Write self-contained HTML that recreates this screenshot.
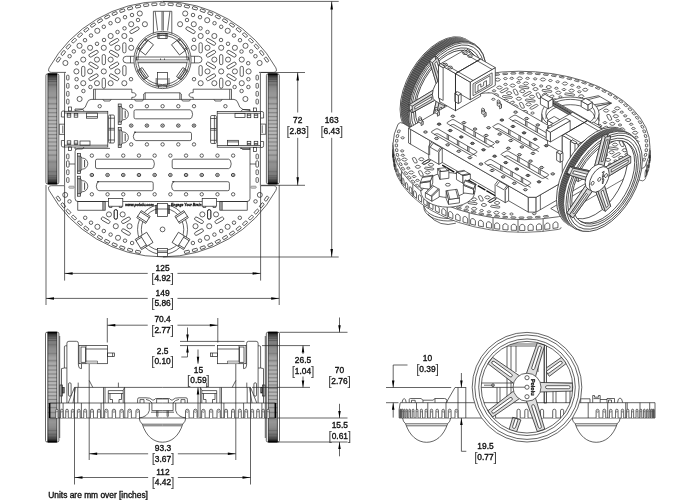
<!DOCTYPE html>
<html><head><meta charset="utf-8"><title>Romi chassis dimensions</title>
<style>
html,body{margin:0;padding:0;background:#fff;}
svg{display:block;font-family:"Liberation Sans",sans-serif;}
svg{will-change:transform;}
.l{fill:none;stroke:#222;stroke-width:.7;}
.ns *{vector-effect:non-scaling-stroke;}
</style></head><body>
<svg width="700" height="500" viewBox="0 0 700 500">
<rect width="700" height="500" fill="#fff"/>
<g class="l">
<path d="M49.17 67.80 A129.2 127.75 0 0 1 275.83 67.80 Q277.83 72.40 273.33 72.40 L259.4 72.4 Q260.4 72.4 260.4 73.4 L260.4 185.7 L273.38 185.7 Q277.88 185.70 275.88 190.40 A129.2 127.75 0 0 1 49.12 190.40 Q47.12 185.70 51.62 185.70 L64.6 185.7 L64.6 73.4 Q64.6 72.4 65.6 72.4 L51.67 72.4 Q47.17 72.40 49.17 67.80 Z"/>
<rect x="55.98" y="58.40" width="5.00" height="2.50" rx="0.60" transform="rotate(-56.25 58.48 59.65)"/>
<rect x="55.98" y="197.40" width="5.00" height="2.50" rx="0.60" transform="rotate(56.25 58.48 198.65)"/>
<rect x="60.75" y="51.74" width="5.00" height="2.50" rx="0.60" transform="rotate(-52.50 63.25 52.99)"/>
<rect x="60.75" y="204.06" width="5.00" height="2.50" rx="0.60" transform="rotate(52.50 63.25 205.31)"/>
<rect x="65.94" y="45.42" width="5.00" height="2.50" rx="0.60" transform="rotate(-48.75 68.44 46.67)"/>
<rect x="65.94" y="210.38" width="5.00" height="2.50" rx="0.60" transform="rotate(48.75 68.44 211.63)"/>
<rect x="71.54" y="39.44" width="5.00" height="2.50" rx="0.60" transform="rotate(-45.00 74.04 40.69)"/>
<rect x="71.54" y="216.36" width="5.00" height="2.50" rx="0.60" transform="rotate(45.00 74.04 217.61)"/>
<rect x="77.52" y="33.84" width="5.00" height="2.50" rx="0.60" transform="rotate(-41.25 80.02 35.09)"/>
<rect x="77.52" y="221.96" width="5.00" height="2.50" rx="0.60" transform="rotate(41.25 80.02 223.21)"/>
<rect x="83.84" y="28.65" width="5.00" height="2.50" rx="0.60" transform="rotate(-37.50 86.34 29.90)"/>
<rect x="83.84" y="227.15" width="5.00" height="2.50" rx="0.60" transform="rotate(37.50 86.34 228.40)"/>
<rect x="90.50" y="23.88" width="5.00" height="2.50" rx="0.60" transform="rotate(-33.75 93.00 25.13)"/>
<rect x="90.50" y="231.92" width="5.00" height="2.50" rx="0.60" transform="rotate(33.75 93.00 233.17)"/>
<rect x="97.45" y="19.56" width="5.00" height="2.50" rx="0.60" transform="rotate(-30.00 99.95 20.81)"/>
<rect x="97.45" y="236.24" width="5.00" height="2.50" rx="0.60" transform="rotate(30.00 99.95 237.49)"/>
<rect x="104.67" y="15.70" width="5.00" height="2.50" rx="0.60" transform="rotate(-26.25 107.17 16.95)"/>
<rect x="104.67" y="240.10" width="5.00" height="2.50" rx="0.60" transform="rotate(26.25 107.17 241.35)"/>
<rect x="112.13" y="12.32" width="5.00" height="2.50" rx="0.60" transform="rotate(-22.50 114.63 13.57)"/>
<rect x="112.13" y="243.48" width="5.00" height="2.50" rx="0.60" transform="rotate(22.50 114.63 244.73)"/>
<rect x="119.79" y="9.44" width="5.00" height="2.50" rx="0.60" transform="rotate(-18.75 122.29 10.69)"/>
<rect x="119.79" y="246.36" width="5.00" height="2.50" rx="0.60" transform="rotate(18.75 122.29 247.61)"/>
<rect x="127.62" y="7.06" width="5.00" height="2.50" rx="0.60" transform="rotate(-15.00 130.12 8.31)"/>
<rect x="127.62" y="248.74" width="5.00" height="2.50" rx="0.60" transform="rotate(15.00 130.12 249.99)"/>
<rect x="135.59" y="5.20" width="5.00" height="2.50" rx="0.60" transform="rotate(-11.25 138.09 6.45)"/>
<rect x="135.59" y="250.60" width="5.00" height="2.50" rx="0.60" transform="rotate(11.25 138.09 251.85)"/>
<rect x="143.67" y="3.87" width="5.00" height="2.50" rx="0.60" transform="rotate(-7.50 146.17 5.12)"/>
<rect x="151.82" y="3.07" width="5.00" height="2.50" rx="0.60" transform="rotate(-3.75 154.32 4.32)"/>
<rect x="160.00" y="2.80" width="5.00" height="2.50" rx="0.60"/>
<rect x="168.18" y="3.07" width="5.00" height="2.50" rx="0.60" transform="rotate(3.75 170.68 4.32)"/>
<rect x="176.33" y="3.87" width="5.00" height="2.50" rx="0.60" transform="rotate(7.50 178.83 5.12)"/>
<rect x="184.41" y="5.20" width="5.00" height="2.50" rx="0.60" transform="rotate(11.25 186.91 6.45)"/>
<rect x="184.41" y="250.60" width="5.00" height="2.50" rx="0.60" transform="rotate(-11.25 186.91 251.85)"/>
<rect x="192.38" y="7.06" width="5.00" height="2.50" rx="0.60" transform="rotate(15.00 194.88 8.31)"/>
<rect x="192.38" y="248.74" width="5.00" height="2.50" rx="0.60" transform="rotate(-15.00 194.88 249.99)"/>
<rect x="200.21" y="9.44" width="5.00" height="2.50" rx="0.60" transform="rotate(18.75 202.71 10.69)"/>
<rect x="200.21" y="246.36" width="5.00" height="2.50" rx="0.60" transform="rotate(-18.75 202.71 247.61)"/>
<rect x="207.87" y="12.32" width="5.00" height="2.50" rx="0.60" transform="rotate(22.50 210.37 13.57)"/>
<rect x="207.87" y="243.48" width="5.00" height="2.50" rx="0.60" transform="rotate(-22.50 210.37 244.73)"/>
<rect x="215.33" y="15.70" width="5.00" height="2.50" rx="0.60" transform="rotate(26.25 217.83 16.95)"/>
<rect x="215.33" y="240.10" width="5.00" height="2.50" rx="0.60" transform="rotate(-26.25 217.83 241.35)"/>
<rect x="222.55" y="19.56" width="5.00" height="2.50" rx="0.60" transform="rotate(30.00 225.05 20.81)"/>
<rect x="222.55" y="236.24" width="5.00" height="2.50" rx="0.60" transform="rotate(-30.00 225.05 237.49)"/>
<rect x="229.50" y="23.88" width="5.00" height="2.50" rx="0.60" transform="rotate(33.75 232.00 25.13)"/>
<rect x="229.50" y="231.92" width="5.00" height="2.50" rx="0.60" transform="rotate(-33.75 232.00 233.17)"/>
<rect x="236.16" y="28.65" width="5.00" height="2.50" rx="0.60" transform="rotate(37.50 238.66 29.90)"/>
<rect x="236.16" y="227.15" width="5.00" height="2.50" rx="0.60" transform="rotate(-37.50 238.66 228.40)"/>
<rect x="242.48" y="33.84" width="5.00" height="2.50" rx="0.60" transform="rotate(41.25 244.98 35.09)"/>
<rect x="242.48" y="221.96" width="5.00" height="2.50" rx="0.60" transform="rotate(-41.25 244.98 223.21)"/>
<rect x="248.46" y="39.44" width="5.00" height="2.50" rx="0.60" transform="rotate(45.00 250.96 40.69)"/>
<rect x="248.46" y="216.36" width="5.00" height="2.50" rx="0.60" transform="rotate(-45.00 250.96 217.61)"/>
<rect x="254.06" y="45.42" width="5.00" height="2.50" rx="0.60" transform="rotate(48.75 256.56 46.67)"/>
<rect x="254.06" y="210.38" width="5.00" height="2.50" rx="0.60" transform="rotate(-48.75 256.56 211.63)"/>
<rect x="259.25" y="51.74" width="5.00" height="2.50" rx="0.60" transform="rotate(52.50 261.75 52.99)"/>
<rect x="259.25" y="204.06" width="5.00" height="2.50" rx="0.60" transform="rotate(-52.50 261.75 205.31)"/>
<rect x="264.02" y="58.40" width="5.00" height="2.50" rx="0.60" transform="rotate(56.25 266.52 59.65)"/>
<rect x="264.02" y="197.40" width="5.00" height="2.50" rx="0.60" transform="rotate(-56.25 266.52 198.65)"/>
<circle cx="131.20" cy="24.20" r="2.55"/>
<circle cx="144.90" cy="24.20" r="2.55"/>
<circle cx="110.65" cy="36.00" r="2.55"/>
<circle cx="124.35" cy="36.00" r="2.55"/>
<circle cx="90.10" cy="47.80" r="2.55"/>
<circle cx="103.80" cy="47.80" r="2.55"/>
<circle cx="117.50" cy="47.80" r="2.55"/>
<circle cx="131.20" cy="47.80" r="2.55"/>
<circle cx="83.25" cy="59.60" r="2.55"/>
<circle cx="96.95" cy="59.60" r="2.55"/>
<circle cx="110.65" cy="59.60" r="2.55"/>
<circle cx="76.40" cy="71.40" r="2.55"/>
<circle cx="90.10" cy="71.40" r="2.55"/>
<circle cx="103.80" cy="71.40" r="2.55"/>
<circle cx="117.50" cy="71.40" r="2.55"/>
<circle cx="83.25" cy="83.20" r="2.55"/>
<circle cx="96.95" cy="83.20" r="2.55"/>
<circle cx="110.65" cy="83.20" r="2.55"/>
<circle cx="124.35" cy="83.20" r="2.55"/>
<circle cx="139.80" cy="13.50" r="2.55"/>
<circle cx="117.80" cy="20.20" r="2.55"/>
<circle cx="97.30" cy="30.80" r="2.55"/>
<circle cx="79.50" cy="45.80" r="2.55"/>
<circle cx="65.40" cy="63.00" r="2.55"/>
<circle cx="79.60" cy="99.00" r="2.55"/>
<circle cx="132.00" cy="15.00" r="1.75"/>
<circle cx="125.00" cy="17.20" r="1.75"/>
<circle cx="138.00" cy="20.00" r="1.75"/>
<circle cx="110.50" cy="23.20" r="1.75"/>
<circle cx="103.80" cy="26.80" r="1.75"/>
<circle cx="124.50" cy="28.30" r="1.75"/>
<circle cx="117.50" cy="32.00" r="1.75"/>
<circle cx="91.00" cy="35.50" r="1.75"/>
<circle cx="85.00" cy="40.20" r="1.75"/>
<circle cx="104.00" cy="40.00" r="1.75"/>
<circle cx="97.00" cy="43.80" r="1.75"/>
<circle cx="131.00" cy="39.80" r="1.75"/>
<circle cx="83.50" cy="51.50" r="1.75"/>
<circle cx="73.80" cy="51.40" r="1.75"/>
<circle cx="69.60" cy="56.20" r="1.75"/>
<circle cx="76.80" cy="63.20" r="1.75"/>
<circle cx="76.60" cy="79.20" r="1.75"/>
<circle cx="76.60" cy="87.00" r="1.75"/>
<circle cx="90.40" cy="87.00" r="1.75"/>
<circle cx="83.40" cy="91.00" r="1.75"/>
<circle cx="131.00" cy="79.20" r="1.75"/>
<rect x="108.98" y="40.25" width="10.20" height="3.30" rx="1.65" transform="rotate(149.86 114.08 41.90)"/>
<rect x="88.43" y="52.05" width="10.20" height="3.30" rx="1.65" transform="rotate(149.86 93.53 53.70)"/>
<rect x="119.25" y="46.15" width="10.20" height="3.30" rx="1.65" transform="rotate(90.00 124.35 47.80)"/>
<rect x="108.98" y="52.05" width="10.20" height="3.30" rx="1.65" transform="rotate(210.14 114.08 53.70)"/>
<rect x="98.70" y="57.95" width="10.20" height="3.30" rx="1.65" transform="rotate(90.00 103.80 59.60)"/>
<rect x="88.43" y="63.85" width="10.20" height="3.30" rx="1.65" transform="rotate(210.14 93.53 65.50)"/>
<rect x="108.98" y="63.85" width="10.20" height="3.30" rx="1.65" transform="rotate(149.86 114.08 65.50)"/>
<rect x="78.15" y="69.75" width="10.20" height="3.30" rx="1.65" transform="rotate(90.00 83.25 71.40)"/>
<rect x="88.43" y="75.65" width="10.20" height="3.30" rx="1.65" transform="rotate(149.86 93.53 77.30)"/>
<rect x="108.98" y="75.65" width="10.20" height="3.30" rx="1.65" transform="rotate(210.14 114.08 77.30)"/>
<rect x="98.70" y="81.55" width="10.20" height="3.30" rx="1.65" transform="rotate(90.00 103.80 83.20)"/>
<rect x="129.40" y="28.55" width="10.20" height="3.30" rx="1.65" transform="rotate(-30.00 134.50 30.20)"/>
<rect x="119.30" y="68.95" width="10.20" height="3.30" rx="1.65" transform="rotate(90.00 124.40 70.60)"/>
<circle cx="193.80" cy="24.20" r="2.55"/>
<circle cx="180.10" cy="24.20" r="2.55"/>
<circle cx="214.35" cy="36.00" r="2.55"/>
<circle cx="200.65" cy="36.00" r="2.55"/>
<circle cx="234.90" cy="47.80" r="2.55"/>
<circle cx="221.20" cy="47.80" r="2.55"/>
<circle cx="207.50" cy="47.80" r="2.55"/>
<circle cx="193.80" cy="47.80" r="2.55"/>
<circle cx="241.75" cy="59.60" r="2.55"/>
<circle cx="228.05" cy="59.60" r="2.55"/>
<circle cx="214.35" cy="59.60" r="2.55"/>
<circle cx="248.60" cy="71.40" r="2.55"/>
<circle cx="234.90" cy="71.40" r="2.55"/>
<circle cx="221.20" cy="71.40" r="2.55"/>
<circle cx="207.50" cy="71.40" r="2.55"/>
<circle cx="241.75" cy="83.20" r="2.55"/>
<circle cx="228.05" cy="83.20" r="2.55"/>
<circle cx="214.35" cy="83.20" r="2.55"/>
<circle cx="200.65" cy="83.20" r="2.55"/>
<circle cx="185.20" cy="13.50" r="2.55"/>
<circle cx="207.20" cy="20.20" r="2.55"/>
<circle cx="227.70" cy="30.80" r="2.55"/>
<circle cx="245.50" cy="45.80" r="2.55"/>
<circle cx="259.60" cy="63.00" r="2.55"/>
<circle cx="245.40" cy="99.00" r="2.55"/>
<circle cx="193.00" cy="15.00" r="1.75"/>
<circle cx="200.00" cy="17.20" r="1.75"/>
<circle cx="187.00" cy="20.00" r="1.75"/>
<circle cx="214.50" cy="23.20" r="1.75"/>
<circle cx="221.20" cy="26.80" r="1.75"/>
<circle cx="200.50" cy="28.30" r="1.75"/>
<circle cx="207.50" cy="32.00" r="1.75"/>
<circle cx="234.00" cy="35.50" r="1.75"/>
<circle cx="240.00" cy="40.20" r="1.75"/>
<circle cx="221.00" cy="40.00" r="1.75"/>
<circle cx="228.00" cy="43.80" r="1.75"/>
<circle cx="194.00" cy="39.80" r="1.75"/>
<circle cx="241.50" cy="51.50" r="1.75"/>
<circle cx="251.20" cy="51.40" r="1.75"/>
<circle cx="255.40" cy="56.20" r="1.75"/>
<circle cx="248.20" cy="63.20" r="1.75"/>
<circle cx="248.40" cy="79.20" r="1.75"/>
<circle cx="248.40" cy="87.00" r="1.75"/>
<circle cx="234.60" cy="87.00" r="1.75"/>
<circle cx="241.60" cy="91.00" r="1.75"/>
<circle cx="194.00" cy="79.20" r="1.75"/>
<rect x="205.83" y="40.25" width="10.20" height="3.30" rx="1.65" transform="rotate(30.14 210.93 41.90)"/>
<rect x="226.38" y="52.05" width="10.20" height="3.30" rx="1.65" transform="rotate(30.14 231.47 53.70)"/>
<rect x="195.55" y="46.15" width="10.20" height="3.30" rx="1.65" transform="rotate(90.00 200.65 47.80)"/>
<rect x="205.83" y="52.05" width="10.20" height="3.30" rx="1.65" transform="rotate(-30.14 210.93 53.70)"/>
<rect x="216.10" y="57.95" width="10.20" height="3.30" rx="1.65" transform="rotate(90.00 221.20 59.60)"/>
<rect x="226.38" y="63.85" width="10.20" height="3.30" rx="1.65" transform="rotate(-30.14 231.47 65.50)"/>
<rect x="205.83" y="63.85" width="10.20" height="3.30" rx="1.65" transform="rotate(30.14 210.93 65.50)"/>
<rect x="236.65" y="69.75" width="10.20" height="3.30" rx="1.65" transform="rotate(90.00 241.75 71.40)"/>
<rect x="226.38" y="75.65" width="10.20" height="3.30" rx="1.65" transform="rotate(30.14 231.47 77.30)"/>
<rect x="205.83" y="75.65" width="10.20" height="3.30" rx="1.65" transform="rotate(-30.14 210.93 77.30)"/>
<rect x="216.10" y="81.55" width="10.20" height="3.30" rx="1.65" transform="rotate(90.00 221.20 83.20)"/>
<rect x="185.40" y="28.55" width="10.20" height="3.30" rx="1.65" transform="rotate(210.00 190.50 30.20)"/>
<rect x="195.50" y="68.95" width="10.20" height="3.30" rx="1.65" transform="rotate(90.00 200.60 70.60)"/>
<circle cx="108.95" cy="214.40" r="2.55"/>
<circle cx="122.65" cy="214.40" r="2.55"/>
<circle cx="115.80" cy="226.20" r="2.55"/>
<circle cx="129.50" cy="226.20" r="2.55"/>
<circle cx="97.40" cy="226.80" r="2.55"/>
<circle cx="118.00" cy="237.80" r="2.55"/>
<circle cx="69.50" cy="201.40" r="1.75"/>
<circle cx="85.20" cy="217.80" r="1.75"/>
<circle cx="91.00" cy="222.70" r="1.75"/>
<circle cx="103.80" cy="231.00" r="1.75"/>
<circle cx="110.60" cy="234.60" r="1.75"/>
<circle cx="125.00" cy="240.70" r="1.75"/>
<circle cx="132.10" cy="243.00" r="1.75"/>
<rect x="111.00" y="212.75" width="9.60" height="3.30" rx="1.65" transform="rotate(90.00 115.80 214.40)"/>
<rect x="111.00" y="212.75" width="9.60" height="3.30" rx="1.65" transform="rotate(90.00 115.80 214.40)"/>
<rect x="100.80" y="218.65" width="9.60" height="3.30" rx="1.65" transform="rotate(30.00 105.60 220.30)"/>
<rect x="121.20" y="218.65" width="9.60" height="3.30" rx="1.65" transform="rotate(-30.00 126.00 220.30)"/>
<rect x="121.20" y="230.45" width="9.60" height="3.30" rx="1.65" transform="rotate(30.00 126.00 232.10)"/>
<circle cx="216.05" cy="214.40" r="2.55"/>
<circle cx="202.35" cy="214.40" r="2.55"/>
<circle cx="209.20" cy="226.20" r="2.55"/>
<circle cx="195.50" cy="226.20" r="2.55"/>
<circle cx="227.60" cy="226.80" r="2.55"/>
<circle cx="207.00" cy="237.80" r="2.55"/>
<circle cx="255.50" cy="201.40" r="1.75"/>
<circle cx="239.80" cy="217.80" r="1.75"/>
<circle cx="234.00" cy="222.70" r="1.75"/>
<circle cx="221.20" cy="231.00" r="1.75"/>
<circle cx="214.40" cy="234.60" r="1.75"/>
<circle cx="200.00" cy="240.70" r="1.75"/>
<circle cx="192.90" cy="243.00" r="1.75"/>
<rect x="204.40" y="212.75" width="9.60" height="3.30" rx="1.65" transform="rotate(90.00 209.20 214.40)"/>
<rect x="204.40" y="212.75" width="9.60" height="3.30" rx="1.65" transform="rotate(90.00 209.20 214.40)"/>
<rect x="214.60" y="218.65" width="9.60" height="3.30" rx="1.65" transform="rotate(150.00 219.40 220.30)"/>
<rect x="194.20" y="218.65" width="9.60" height="3.30" rx="1.65" transform="rotate(210.00 199.00 220.30)"/>
<rect x="194.20" y="230.45" width="9.60" height="3.30" rx="1.65" transform="rotate(150.00 199.00 232.10)"/>
<rect x="66.60" y="75.20" width="2.40" height="4.80" rx="0.90"/>
<rect x="66.60" y="83.40" width="2.40" height="4.80" rx="0.90"/>
<rect x="66.60" y="91.40" width="2.40" height="4.80" rx="0.90"/>
<rect x="66.60" y="99.20" width="2.40" height="4.80" rx="0.90"/>
<rect x="256.00" y="75.20" width="2.40" height="4.80" rx="0.90"/>
<rect x="256.00" y="83.40" width="2.40" height="4.80" rx="0.90"/>
<rect x="256.00" y="91.40" width="2.40" height="4.80" rx="0.90"/>
<rect x="256.00" y="99.20" width="2.40" height="4.80" rx="0.90"/>
<path d="M93.5 99.4 L93.5 89.2 L131.8 89.2 L131.8 92.6 Q136 92.6 136 95 Q136 97.4 131.8 97.4 L131.8 99.4"/>
<line x1="95.30" y1="89.20" x2="95.30" y2="99.40"/>
<path d="M231.5 99.4 L231.5 89.2 L193.2 89.2 L193.2 92.6 Q189 92.6 189 95 Q189 97.4 193.2 97.4 L193.2 99.4"/>
<line x1="229.70" y1="89.20" x2="229.70" y2="99.40"/>
<path d="M143.7 99.4 L143.7 94 L145 92.8 L180 92.8 L181.3 94 L181.3 99.4"/>
<line x1="145.20" y1="92.80" x2="145.20" y2="99.40"/>
<line x1="179.80" y1="92.80" x2="179.80" y2="99.40"/>
<path d="M91 99.4 L234 99.4 Q237 99.6 238 103 Q239 108 243 109.5 L250 110.5 M91 99.4 Q88 99.6 87 103 Q86 108 82 109.5 L75 110.5"/>
<path d="M103 99.4 L104 101 L110 101 L111 99.4"/>
<path d="M134.5 99.4 L135.5 101 L142.5 101 L143.5 99.4"/>
<path d="M181.5 99.4 L182.5 101 L189.5 101 L190.5 99.4"/>
<path d="M214 99.4 L215 101 L221 101 L222 99.4"/>
<g transform=""><path d="M64.5 111 L63 111 Q61.4 111 61.4 112.8 L61.4 117 L64.5 117"/><path d="M64.5 147 L63 147 Q61.4 147 61.4 145.2 L61.4 140.5 L64.5 140.5"/><rect x="64.50" y="111.30" width="43.30" height="35.70" fill="#fff"/><line x1="64.50" y1="113.00" x2="107.80" y2="113.00"/><line x1="64.50" y1="145.20" x2="107.80" y2="145.20"/><rect x="67.20" y="113.60" width="3.60" height="3.60"/><rect x="67.20" y="140.80" width="3.60" height="3.80"/><line x1="67.20" y1="115.00" x2="70.80" y2="115.00"/><line x1="67.20" y1="143.20" x2="70.80" y2="143.20"/><rect x="74.20" y="113.60" width="3.60" height="3.60"/><rect x="74.20" y="140.80" width="3.60" height="3.80"/><line x1="74.20" y1="115.00" x2="77.80" y2="115.00"/><line x1="74.20" y1="143.20" x2="77.80" y2="143.20"/><rect x="68.60" y="107.00" width="3.00" height="4.00"/><rect x="68.60" y="147.00" width="3.00" height="3.50"/><path d="M75 111 L75 109 L82.5 109 L84 111"/><path d="M75 147 L75 149 L82.5 149 L84 147"/><rect x="86.50" y="113.00" width="11.00" height="5.20"/><line x1="86.50" y1="116.60" x2="97.50" y2="116.60"/><rect x="80.00" y="141.00" width="10.00" height="4.20"/><path d="M64.5 124.2 L59.2 124.2 L59.2 134.4 L64.5 134.4 M62.8 125.5 L62.8 133.2"/><rect x="108.60" y="115.00" width="5.80" height="28.00" rx="1.20" fill="#fff"/><path d="M108.6 118.2h5.8M108.6 128.3h5.8M108.6 130h5.8M108.6 140h5.8M110.6 115v28"/></g>
<g transform="rotate(180 162.5 129.25)"><path d="M64.5 111 L63 111 Q61.4 111 61.4 112.8 L61.4 117 L64.5 117"/><path d="M64.5 147 L63 147 Q61.4 147 61.4 145.2 L61.4 140.5 L64.5 140.5"/><rect x="64.50" y="111.30" width="43.30" height="35.70" fill="#fff"/><line x1="64.50" y1="113.00" x2="107.80" y2="113.00"/><line x1="64.50" y1="145.20" x2="107.80" y2="145.20"/><rect x="67.20" y="113.60" width="3.60" height="3.60"/><rect x="67.20" y="140.80" width="3.60" height="3.80"/><line x1="67.20" y1="115.00" x2="70.80" y2="115.00"/><line x1="67.20" y1="143.20" x2="70.80" y2="143.20"/><rect x="74.20" y="113.60" width="3.60" height="3.60"/><rect x="74.20" y="140.80" width="3.60" height="3.80"/><line x1="74.20" y1="115.00" x2="77.80" y2="115.00"/><line x1="74.20" y1="143.20" x2="77.80" y2="143.20"/><rect x="68.60" y="107.00" width="3.00" height="4.00"/><rect x="68.60" y="147.00" width="3.00" height="3.50"/><path d="M75 111 L75 109 L82.5 109 L84 111"/><path d="M75 147 L75 149 L82.5 149 L84 147"/><rect x="86.50" y="113.00" width="11.00" height="5.20"/><line x1="86.50" y1="116.60" x2="97.50" y2="116.60"/><rect x="80.00" y="141.00" width="10.00" height="4.20"/><path d="M64.5 124.2 L59.2 124.2 L59.2 134.4 L64.5 134.4 M62.8 125.5 L62.8 133.2"/><rect x="108.60" y="115.00" width="5.80" height="28.00" rx="1.20" fill="#fff"/><path d="M108.6 118.2h5.8M108.6 128.3h5.8M108.6 130h5.8M108.6 140h5.8M110.6 115v28"/></g>
<circle cx="131.20" cy="106.20" r="1.70"/>
<ellipse cx="131.20" cy="125.60" rx="1.80" ry="1.60" stroke-width="0.85"/>
<ellipse cx="131.20" cy="125.70" rx="1.05" ry="0.80" fill="#777" stroke="none"/>
<circle cx="131.20" cy="144.40" r="1.70"/>
<circle cx="146.90" cy="106.20" r="1.70"/>
<ellipse cx="146.90" cy="125.60" rx="1.80" ry="1.60" stroke-width="0.85"/>
<ellipse cx="146.90" cy="125.70" rx="1.05" ry="0.80" fill="#777" stroke="none"/>
<circle cx="146.90" cy="144.40" r="1.70"/>
<circle cx="162.60" cy="106.20" r="1.70"/>
<ellipse cx="162.60" cy="125.60" rx="1.80" ry="1.60" stroke-width="0.85"/>
<ellipse cx="162.60" cy="125.70" rx="1.05" ry="0.80" fill="#777" stroke="none"/>
<circle cx="162.60" cy="144.40" r="1.70"/>
<circle cx="178.30" cy="106.20" r="1.70"/>
<ellipse cx="178.30" cy="125.60" rx="1.80" ry="1.60" stroke-width="0.85"/>
<ellipse cx="178.30" cy="125.70" rx="1.05" ry="0.80" fill="#777" stroke="none"/>
<circle cx="178.30" cy="144.40" r="1.70"/>
<circle cx="194.00" cy="106.20" r="1.70"/>
<ellipse cx="194.00" cy="125.60" rx="1.80" ry="1.60" stroke-width="0.85"/>
<ellipse cx="194.00" cy="125.70" rx="1.05" ry="0.80" fill="#777" stroke="none"/>
<circle cx="194.00" cy="144.40" r="1.70"/>
<circle cx="99.70" cy="106.20" r="1.70"/>
<circle cx="225.40" cy="106.20" r="1.70"/>
<path d="M135.6 109.8 L190.0 109.8 L191.8 111.0 Q193.4 114.3 191.8 117.6 L190.0 118.8 L135.6 118.8 Q134 118.8 134 117.2 L134 111.39999999999999 Q134 109.8 135.6 109.8 Z"/>
<path d="M134.1 132.2 L189.9 132.2 Q191.5 132.2 191.5 133.79999999999998 L191.5 139.0 Q191.5 140.6 189.9 140.6 L135.9 140.6 L134.1 139.4 Q132.5 136.39999999999998 134.1 133.39999999999998 L135.9 132.2 Z"/>
<g><rect x="118.20" y="104.00" width="3.00" height="20.50" fill="#e2e2e2"/><path d="M121.2 106.5 L122.8 109 L122.8 119.5 L121.2 122.0" fill="#bbb"/><path d="M122.8 108.65 A5.6 5.6 0 0 1 122.8 119.85" fill="#fff"/><path d="M118.2 106.5h3M118.2 122.0h3M119.7 106.5V122.0"/><line x1="125.20" y1="110.65" x2="125.20" y2="117.85" stroke="#333" stroke-width="0.9"/></g>
<g><rect x="118.20" y="127.50" width="3.00" height="20.00" fill="#e2e2e2"/><path d="M121.2 130.0 L122.8 132.5 L122.8 142.5 L121.2 145.0" fill="#bbb"/><path d="M122.8 131.9 A5.6 5.6 0 0 1 122.8 143.1" fill="#fff"/><path d="M118.2 130.0h3M118.2 145.0h3M119.7 130.0V145.0"/><line x1="125.20" y1="133.90" x2="125.20" y2="141.10" stroke="#333" stroke-width="0.9"/></g>
<path d="M110 148.4 L78 148.4 Q75.1 148.4 75.1 151.4 L75.1 198.5 Q75.1 201.5 78 201.5 L247 201.5 Q250 201.5 250 198.5 L250 148.4 L240 148.4"/>
<circle cx="91.85" cy="155.60" r="1.70"/>
<ellipse cx="91.85" cy="175.00" rx="1.80" ry="1.60" stroke-width="0.85"/>
<ellipse cx="91.85" cy="175.10" rx="1.05" ry="0.80" fill="#777" stroke="none"/>
<circle cx="91.85" cy="194.30" r="1.70"/>
<circle cx="107.55" cy="155.60" r="1.70"/>
<ellipse cx="107.55" cy="175.00" rx="1.80" ry="1.60" stroke-width="0.85"/>
<ellipse cx="107.55" cy="175.10" rx="1.05" ry="0.80" fill="#777" stroke="none"/>
<circle cx="107.55" cy="194.30" r="1.70"/>
<circle cx="123.25" cy="155.60" r="1.70"/>
<ellipse cx="123.25" cy="175.00" rx="1.80" ry="1.60" stroke-width="0.85"/>
<ellipse cx="123.25" cy="175.10" rx="1.05" ry="0.80" fill="#777" stroke="none"/>
<circle cx="123.25" cy="194.30" r="1.70"/>
<circle cx="138.95" cy="155.60" r="1.70"/>
<ellipse cx="138.95" cy="175.00" rx="1.80" ry="1.60" stroke-width="0.85"/>
<ellipse cx="138.95" cy="175.10" rx="1.05" ry="0.80" fill="#777" stroke="none"/>
<circle cx="138.95" cy="194.30" r="1.70"/>
<circle cx="154.65" cy="155.60" r="1.70"/>
<ellipse cx="154.65" cy="175.00" rx="1.80" ry="1.60" stroke-width="0.85"/>
<ellipse cx="154.65" cy="175.10" rx="1.05" ry="0.80" fill="#777" stroke="none"/>
<circle cx="154.65" cy="194.30" r="1.70"/>
<circle cx="170.35" cy="155.60" r="1.70"/>
<ellipse cx="170.35" cy="175.00" rx="1.80" ry="1.60" stroke-width="0.85"/>
<ellipse cx="170.35" cy="175.10" rx="1.05" ry="0.80" fill="#777" stroke="none"/>
<circle cx="170.35" cy="194.30" r="1.70"/>
<circle cx="186.05" cy="155.60" r="1.70"/>
<ellipse cx="186.05" cy="175.00" rx="1.80" ry="1.60" stroke-width="0.85"/>
<ellipse cx="186.05" cy="175.10" rx="1.05" ry="0.80" fill="#777" stroke="none"/>
<circle cx="186.05" cy="194.30" r="1.70"/>
<circle cx="201.75" cy="155.60" r="1.70"/>
<ellipse cx="201.75" cy="175.00" rx="1.80" ry="1.60" stroke-width="0.85"/>
<ellipse cx="201.75" cy="175.10" rx="1.05" ry="0.80" fill="#777" stroke="none"/>
<circle cx="201.75" cy="194.30" r="1.70"/>
<circle cx="217.45" cy="155.60" r="1.70"/>
<ellipse cx="217.45" cy="175.00" rx="1.80" ry="1.60" stroke-width="0.85"/>
<ellipse cx="217.45" cy="175.10" rx="1.05" ry="0.80" fill="#777" stroke="none"/>
<circle cx="217.45" cy="194.30" r="1.70"/>
<circle cx="233.15" cy="155.60" r="1.70"/>
<ellipse cx="233.15" cy="175.00" rx="1.80" ry="1.60" stroke-width="0.85"/>
<ellipse cx="233.15" cy="175.10" rx="1.05" ry="0.80" fill="#777" stroke="none"/>
<circle cx="233.15" cy="194.30" r="1.70"/>
<path d="M97.1 159.2 L151.79999999999998 159.2 L153.6 160.39999999999998 Q155.2 163.89999999999998 153.6 167.4 L151.79999999999998 168.6 L97.1 168.6 Q95.5 168.6 95.5 167.0 L95.5 160.79999999999998 Q95.5 159.2 97.1 159.2 Z"/>
<path d="M173.79999999999998 159.2 L228.6 159.2 L230.4 160.39999999999998 Q232 163.89999999999998 230.4 167.4 L228.6 168.6 L173.79999999999998 168.6 Q172.2 168.6 172.2 167.0 L172.2 160.79999999999998 Q172.2 159.2 173.79999999999998 159.2 Z"/>
<path d="M97.1 181.7 L151.6 181.7 Q153.2 181.7 153.2 183.29999999999998 L153.2 189.1 Q153.2 190.7 151.6 190.7 L98.9 190.7 L97.1 189.5 Q95.5 186.2 97.1 182.89999999999998 L98.9 181.7 Z"/>
<path d="M172.4 181.7 L227.8 181.7 Q229.4 181.7 229.4 183.29999999999998 L229.4 189.1 Q229.4 190.7 227.8 190.7 L174.20000000000002 190.7 L172.4 189.5 Q170.8 186.2 172.4 182.89999999999998 L174.20000000000002 181.7 Z"/>
<g><rect x="77.60" y="153.60" width="3.00" height="20.00" fill="#e2e2e2"/><path d="M80.6 156.1 L82.19999999999999 158.6 L82.19999999999999 168.6 L80.6 171.1" fill="#bbb"/><path d="M82.19999999999999 158.0 A5.6 5.6 0 0 1 82.19999999999999 169.2" fill="#fff"/><path d="M77.6 156.1h3M77.6 171.1h3M79.1 156.1V171.1"/><line x1="84.60" y1="160.00" x2="84.60" y2="167.20" stroke="#333" stroke-width="0.9"/></g>
<g><rect x="77.60" y="176.20" width="3.00" height="20.00" fill="#e2e2e2"/><path d="M80.6 178.7 L82.19999999999999 181.2 L82.19999999999999 191.2 L80.6 193.7" fill="#bbb"/><path d="M82.19999999999999 180.6 A5.6 5.6 0 0 1 82.19999999999999 191.79999999999998" fill="#fff"/><path d="M77.6 178.7h3M77.6 193.7h3M79.1 178.7V193.7"/><line x1="84.60" y1="182.60" x2="84.60" y2="189.80" stroke="#333" stroke-width="0.9"/></g>
<rect x="77.80" y="201.50" width="27.40" height="8.70"/>
<line x1="102.80" y1="201.50" x2="102.80" y2="210.20"/>
<line x1="104.00" y1="201.50" x2="104.00" y2="210.20"/>
<rect x="219.80" y="201.50" width="27.40" height="8.70"/>
<line x1="221.00" y1="201.50" x2="221.00" y2="210.20"/>
<line x1="222.20" y1="201.50" x2="222.20" y2="210.20"/>
<rect x="108.40" y="198.60" width="14.40" height="7.60" fill="#fff"/>
<path d="M109.3 206.2v1.3h2.6v-1.3M119.3 206.2v1.3h2.6v-1.3"/>
<rect x="202.20" y="198.60" width="14.40" height="7.60" fill="#fff"/>
<path d="M203.1 206.2v1.3h2.6v-1.3M213.1 206.2v1.3h2.6v-1.3"/>
<text x="139.50" y="205.80" font-size="3.9" text-anchor="middle" fill="#111" stroke="#111" stroke-width="0.3" font-weight="bold" font-style="italic" textLength="28.5" lengthAdjust="spacingAndGlyphs">www.pololu.com</text>
<text x="186.30" y="205.80" font-size="3.9" text-anchor="middle" fill="#111" stroke="#111" stroke-width="0.3" font-weight="bold" font-style="italic" textLength="30.5" lengthAdjust="spacingAndGlyphs">Engage Your Brain</text>
<rect x="66.60" y="154.10" width="2.40" height="4.80" rx="0.90"/>
<rect x="66.60" y="169.80" width="2.40" height="4.80" rx="0.90"/>
<rect x="66.60" y="177.60" width="2.40" height="4.80" rx="0.90"/>
<rect x="66.50" y="160.80" width="2.60" height="6.40" rx="1.00"/>
<line x1="69.00" y1="164.00" x2="75.00" y2="164.00"/>
<rect x="68.70" y="186.20" width="5.60" height="2.00" rx="1.00" fill="#ddd" stroke="#777"/>
<circle cx="65.20" cy="194.90" r="2.50"/>
<rect x="256.00" y="154.10" width="2.40" height="4.80" rx="0.90"/>
<rect x="256.00" y="169.80" width="2.40" height="4.80" rx="0.90"/>
<rect x="256.00" y="177.60" width="2.40" height="4.80" rx="0.90"/>
<rect x="255.90" y="160.80" width="2.60" height="6.40" rx="1.00"/>
<line x1="256.00" y1="164.00" x2="250.00" y2="164.00"/>
<rect x="250.70" y="186.20" width="5.60" height="2.00" rx="1.00" fill="#ddd" stroke="#777"/>
<circle cx="259.80" cy="194.90" r="2.50"/>
<path d="M153.4 33.5 L153.4 11.3 L171.8 11.3 L171.8 33.5"/>
<path d="M155.2 11.5 L157.6 30.5 M169.9 11.5 L167.6 30.5 M162 11.5 L162 30.5 M163.3 11.5 L163.3 30.5"/>
<circle cx="162.50" cy="60.00" r="28.60"/>
<circle cx="162.50" cy="60.00" r="26.90"/>
<circle cx="162.50" cy="60.00" r="24.60"/>
<path d="M134 56.3 L126.3 56.3 A3.3 3.3 0 0 0 126.3 62.9 L134 62.9 M130.5 56.3 L130.5 62.9"/>
<path d="M191 56.3 L198.7 56.3 A3.3 3.3 0 0 1 198.7 62.9 L191 62.9 M194.5 56.3 L194.5 62.9"/>
<rect x="136.60" y="57.00" width="51.80" height="3.00"/>
<rect x="137.50" y="60.00" width="50.00" height="2.70" fill="#ccc" stroke="none"/>
<line x1="137.50" y1="62.70" x2="187.50" y2="62.70"/>
<path d="M160.5 58.5v1.5M164.5 58.5v1.5"/>
<rect x="157.80" y="33.60" width="9.40" height="5.00"/>
<path d="M157.8 35h9.4M159 33.6v5M166 33.6v5"/>
<rect x="157.60" y="72.50" width="10.00" height="13.00"/>
<path d="M157.6 79h10M156.2 78v8M169 78v8M158.5 85.5v2.5M166.7 85.5v2.5"/>
<g transform="rotate(-52 162.5 60)"><rect x="156.00" y="33.50" width="13.00" height="10.00"/><path d="M156.0 36.5h13M157.5 33.5v3M167.5 33.5v3"/></g>
<g transform="rotate(52 162.5 60)"><rect x="156.00" y="33.50" width="13.00" height="10.00"/><path d="M156.0 36.5h13M157.5 33.5v3M167.5 33.5v3"/></g>
<g transform="rotate(-125 162.5 60)"><rect x="157.00" y="33.30" width="11.00" height="5.70"/><path d="M157.0 35h11M157.0 37h11"/></g>
<g transform="rotate(125 162.5 60)"><rect x="157.00" y="33.30" width="11.00" height="5.70"/><path d="M157.0 35h11M157.0 37h11"/></g>
<circle cx="162.55" cy="229.40" r="25.00"/>
<circle cx="162.55" cy="229.40" r="21.20"/>
<circle cx="162.55" cy="229.40" r="2.40"/>
<rect x="157.50" y="203.50" width="10.10" height="13.00" fill="#fff"/>
<path d="M157.5 209h10.1M155.6 205v9M169.5 205v9M156.5 205v9M168.5 205v9"/>
<rect x="157.50" y="248.50" width="10.10" height="8.00" fill="#fff"/>
<path d="M157.5 251h10.1M157.5 252.5h10.1"/>
<g transform="rotate(-57 162.55 229.4)"><rect x="158.35" y="201.40" width="8.40" height="10.50" fill="#fff"/><path d="M159.95000000000002 201.4v10.5M165.15 201.4v10.5"/></g>
<g transform="rotate(57 162.55 229.4)"><rect x="158.35" y="201.40" width="8.40" height="10.50" fill="#fff"/><path d="M159.95000000000002 201.4v10.5M165.15 201.4v10.5"/></g>
<g transform="rotate(-122 162.55 229.4)"><rect x="156.55" y="200.90" width="12.00" height="13.50" fill="#fff"/><path d="M156.55 207.4h12M158.05 200.9v6.5M167.05 200.9v6.5"/></g>
<g transform="rotate(122 162.55 229.4)"><rect x="156.55" y="200.90" width="12.00" height="13.50" fill="#fff"/><path d="M156.55 207.4h12M158.05 200.9v6.5M167.05 200.9v6.5"/></g>
<rect x="45.90" y="73.90" width="12.90" height="110.00" rx="1.60" fill="#fff"/>
<line x1="47.90" y1="73.90" x2="47.90" y2="183.90"/>
<line x1="57.00" y1="73.90" x2="57.00" y2="183.90"/>
<path d="M47.90 73.92H57.00M47.90 73.97H57.00M47.90 74.06H57.00M47.90 74.18H57.00M47.90 74.34H57.00M47.90 74.53H57.00M47.90 74.76H57.00M47.90 75.03H57.00M47.90 75.32H57.00M47.90 75.66H57.00M47.90 76.02H57.00M47.90 76.42H57.00M47.90 76.86H57.00M47.90 77.32H57.00M47.90 77.82H57.00M47.90 78.36H57.00M47.90 78.92H57.00M47.90 79.52H57.00M47.90 80.15H57.00M47.90 80.81H57.00M47.90 81.50H57.00M47.90 82.22H57.00M47.90 82.98H57.00M47.90 83.76H57.00M47.90 84.57H57.00M47.90 85.41H57.00M47.90 86.27H57.00M47.90 87.17H57.00M47.90 88.09H57.00M47.90 89.04H57.00M47.90 90.01H57.00M47.90 91.01H57.00M47.90 92.03H57.00M47.90 93.07H57.00M47.90 94.14H57.00M47.90 95.23H57.00M47.90 96.35H57.00M47.90 97.48H57.00M47.90 98.63H57.00M47.90 99.81H57.00M47.90 101.00H57.00M47.90 102.21H57.00M47.90 103.44H57.00M47.90 104.68H57.00M47.90 105.94H57.00M47.90 107.21H57.00M47.90 108.50H57.00M47.90 109.80H57.00M47.90 111.11H57.00M47.90 112.44H57.00M47.90 113.77H57.00M47.90 115.11H57.00M47.90 116.47H57.00M47.90 117.83H57.00M47.90 119.20H57.00M47.90 120.57H57.00M47.90 121.95H57.00M47.90 123.34H57.00M47.90 124.72H57.00M47.90 126.11H57.00M47.90 127.51H57.00M47.90 128.90H57.00M47.90 130.29H57.00M47.90 131.69H57.00M47.90 133.08H57.00M47.90 134.46H57.00M47.90 135.85H57.00M47.90 137.23H57.00M47.90 138.60H57.00M47.90 139.97H57.00M47.90 141.33H57.00M47.90 142.69H57.00M47.90 144.03H57.00M47.90 145.36H57.00M47.90 146.69H57.00M47.90 148.00H57.00M47.90 149.30H57.00M47.90 150.59H57.00M47.90 151.86H57.00M47.90 153.12H57.00M47.90 154.36H57.00M47.90 155.59H57.00M47.90 156.80H57.00M47.90 157.99H57.00M47.90 159.17H57.00M47.90 160.32H57.00M47.90 161.45H57.00M47.90 162.57H57.00M47.90 163.66H57.00M47.90 164.73H57.00M47.90 165.77H57.00M47.90 166.79H57.00M47.90 167.79H57.00M47.90 168.76H57.00M47.90 169.71H57.00M47.90 170.63H57.00M47.90 171.53H57.00M47.90 172.39H57.00M47.90 173.23H57.00M47.90 174.04H57.00M47.90 174.82H57.00M47.90 175.58H57.00M47.90 176.30H57.00M47.90 176.99H57.00M47.90 177.65H57.00M47.90 178.28H57.00M47.90 178.88H57.00M47.90 179.44H57.00M47.90 179.98H57.00M47.90 180.48H57.00M47.90 180.94H57.00M47.90 181.38H57.00M47.90 181.78H57.00M47.90 182.14H57.00M47.90 182.48H57.00M47.90 182.77H57.00M47.90 183.04H57.00M47.90 183.27H57.00M47.90 183.46H57.00M47.90 183.62H57.00M47.90 183.74H57.00M47.90 183.83H57.00M47.90 183.88H57.00" stroke-width="0.5" stroke="#000"/>
<rect x="266.40" y="73.90" width="12.90" height="110.00" rx="1.60" fill="#fff"/>
<line x1="268.20" y1="73.90" x2="268.20" y2="183.90"/>
<line x1="277.30" y1="73.90" x2="277.30" y2="183.90"/>
<path d="M268.20 73.92H277.30M268.20 73.97H277.30M268.20 74.06H277.30M268.20 74.18H277.30M268.20 74.34H277.30M268.20 74.53H277.30M268.20 74.76H277.30M268.20 75.03H277.30M268.20 75.32H277.30M268.20 75.66H277.30M268.20 76.02H277.30M268.20 76.42H277.30M268.20 76.86H277.30M268.20 77.32H277.30M268.20 77.82H277.30M268.20 78.36H277.30M268.20 78.92H277.30M268.20 79.52H277.30M268.20 80.15H277.30M268.20 80.81H277.30M268.20 81.50H277.30M268.20 82.22H277.30M268.20 82.98H277.30M268.20 83.76H277.30M268.20 84.57H277.30M268.20 85.41H277.30M268.20 86.27H277.30M268.20 87.17H277.30M268.20 88.09H277.30M268.20 89.04H277.30M268.20 90.01H277.30M268.20 91.01H277.30M268.20 92.03H277.30M268.20 93.07H277.30M268.20 94.14H277.30M268.20 95.23H277.30M268.20 96.35H277.30M268.20 97.48H277.30M268.20 98.63H277.30M268.20 99.81H277.30M268.20 101.00H277.30M268.20 102.21H277.30M268.20 103.44H277.30M268.20 104.68H277.30M268.20 105.94H277.30M268.20 107.21H277.30M268.20 108.50H277.30M268.20 109.80H277.30M268.20 111.11H277.30M268.20 112.44H277.30M268.20 113.77H277.30M268.20 115.11H277.30M268.20 116.47H277.30M268.20 117.83H277.30M268.20 119.20H277.30M268.20 120.57H277.30M268.20 121.95H277.30M268.20 123.34H277.30M268.20 124.72H277.30M268.20 126.11H277.30M268.20 127.51H277.30M268.20 128.90H277.30M268.20 130.29H277.30M268.20 131.69H277.30M268.20 133.08H277.30M268.20 134.46H277.30M268.20 135.85H277.30M268.20 137.23H277.30M268.20 138.60H277.30M268.20 139.97H277.30M268.20 141.33H277.30M268.20 142.69H277.30M268.20 144.03H277.30M268.20 145.36H277.30M268.20 146.69H277.30M268.20 148.00H277.30M268.20 149.30H277.30M268.20 150.59H277.30M268.20 151.86H277.30M268.20 153.12H277.30M268.20 154.36H277.30M268.20 155.59H277.30M268.20 156.80H277.30M268.20 157.99H277.30M268.20 159.17H277.30M268.20 160.32H277.30M268.20 161.45H277.30M268.20 162.57H277.30M268.20 163.66H277.30M268.20 164.73H277.30M268.20 165.77H277.30M268.20 166.79H277.30M268.20 167.79H277.30M268.20 168.76H277.30M268.20 169.71H277.30M268.20 170.63H277.30M268.20 171.53H277.30M268.20 172.39H277.30M268.20 173.23H277.30M268.20 174.04H277.30M268.20 174.82H277.30M268.20 175.58H277.30M268.20 176.30H277.30M268.20 176.99H277.30M268.20 177.65H277.30M268.20 178.28H277.30M268.20 178.88H277.30M268.20 179.44H277.30M268.20 179.98H277.30M268.20 180.48H277.30M268.20 180.94H277.30M268.20 181.38H277.30M268.20 181.78H277.30M268.20 182.14H277.30M268.20 182.48H277.30M268.20 182.77H277.30M268.20 183.04H277.30M268.20 183.27H277.30M268.20 183.46H277.30M268.20 183.62H277.30M268.20 183.74H277.30M268.20 183.83H277.30M268.20 183.88H277.30" stroke-width="0.5" stroke="#000"/>
<rect x="45.50" y="332.20" width="13.40" height="109.80" rx="1.60" fill="#fff"/>
<line x1="47.80" y1="332.20" x2="47.80" y2="442.00"/>
<line x1="56.90" y1="332.20" x2="56.90" y2="442.00"/>
<path d="M47.80 332.22H56.90M47.80 332.27H56.90M47.80 332.36H56.90M47.80 332.48H56.90M47.80 332.64H56.90M47.80 332.83H56.90M47.80 333.06H56.90M47.80 333.32H56.90M47.80 333.62H56.90M47.80 333.95H56.90M47.80 334.32H56.90M47.80 334.72H56.90M47.80 335.15H56.90M47.80 335.62H56.90M47.80 336.12H56.90M47.80 336.65H56.90M47.80 337.21H56.90M47.80 337.81H56.90M47.80 338.44H56.90M47.80 339.10H56.90M47.80 339.79H56.90M47.80 340.51H56.90M47.80 341.26H56.90M47.80 342.04H56.90M47.80 342.85H56.90M47.80 343.69H56.90M47.80 344.55H56.90M47.80 345.44H56.90M47.80 346.36H56.90M47.80 347.31H56.90M47.80 348.28H56.90M47.80 349.28H56.90M47.80 350.30H56.90M47.80 351.34H56.90M47.80 352.41H56.90M47.80 353.50H56.90M47.80 354.61H56.90M47.80 355.74H56.90M47.80 356.89H56.90M47.80 358.06H56.90M47.80 359.25H56.90M47.80 360.46H56.90M47.80 361.68H56.90M47.80 362.92H56.90M47.80 364.18H56.90M47.80 365.45H56.90M47.80 366.73H56.90M47.80 368.03H56.90M47.80 369.34H56.90M47.80 370.66H56.90M47.80 372.00H56.90M47.80 373.34H56.90M47.80 374.69H56.90M47.80 376.05H56.90M47.80 377.41H56.90M47.80 378.79H56.90M47.80 380.16H56.90M47.80 381.55H56.90M47.80 382.93H56.90M47.80 384.32H56.90M47.80 385.71H56.90M47.80 387.10H56.90M47.80 388.49H56.90M47.80 389.88H56.90M47.80 391.27H56.90M47.80 392.65H56.90M47.80 394.04H56.90M47.80 395.41H56.90M47.80 396.79H56.90M47.80 398.15H56.90M47.80 399.51H56.90M47.80 400.86H56.90M47.80 402.20H56.90M47.80 403.54H56.90M47.80 404.86H56.90M47.80 406.17H56.90M47.80 407.47H56.90M47.80 408.75H56.90M47.80 410.02H56.90M47.80 411.28H56.90M47.80 412.52H56.90M47.80 413.74H56.90M47.80 414.95H56.90M47.80 416.14H56.90M47.80 417.31H56.90M47.80 418.46H56.90M47.80 419.59H56.90M47.80 420.70H56.90M47.80 421.79H56.90M47.80 422.86H56.90M47.80 423.90H56.90M47.80 424.92H56.90M47.80 425.92H56.90M47.80 426.89H56.90M47.80 427.84H56.90M47.80 428.76H56.90M47.80 429.65H56.90M47.80 430.51H56.90M47.80 431.35H56.90M47.80 432.16H56.90M47.80 432.94H56.90M47.80 433.69H56.90M47.80 434.41H56.90M47.80 435.10H56.90M47.80 435.76H56.90M47.80 436.39H56.90M47.80 436.99H56.90M47.80 437.55H56.90M47.80 438.08H56.90M47.80 438.58H56.90M47.80 439.05H56.90M47.80 439.48H56.90M47.80 439.88H56.90M47.80 440.25H56.90M47.80 440.58H56.90M47.80 440.88H56.90M47.80 441.14H56.90M47.80 441.37H56.90M47.80 441.56H56.90M47.80 441.72H56.90M47.80 441.84H56.90M47.80 441.93H56.90M47.80 441.98H56.90" stroke-width="0.5" stroke="#000"/>
<rect x="266.30" y="332.20" width="13.20" height="109.80" rx="1.60" fill="#fff"/>
<line x1="268.30" y1="332.20" x2="268.30" y2="442.00"/>
<line x1="277.40" y1="332.20" x2="277.40" y2="442.00"/>
<path d="M268.30 332.22H277.40M268.30 332.27H277.40M268.30 332.36H277.40M268.30 332.48H277.40M268.30 332.64H277.40M268.30 332.83H277.40M268.30 333.06H277.40M268.30 333.32H277.40M268.30 333.62H277.40M268.30 333.95H277.40M268.30 334.32H277.40M268.30 334.72H277.40M268.30 335.15H277.40M268.30 335.62H277.40M268.30 336.12H277.40M268.30 336.65H277.40M268.30 337.21H277.40M268.30 337.81H277.40M268.30 338.44H277.40M268.30 339.10H277.40M268.30 339.79H277.40M268.30 340.51H277.40M268.30 341.26H277.40M268.30 342.04H277.40M268.30 342.85H277.40M268.30 343.69H277.40M268.30 344.55H277.40M268.30 345.44H277.40M268.30 346.36H277.40M268.30 347.31H277.40M268.30 348.28H277.40M268.30 349.28H277.40M268.30 350.30H277.40M268.30 351.34H277.40M268.30 352.41H277.40M268.30 353.50H277.40M268.30 354.61H277.40M268.30 355.74H277.40M268.30 356.89H277.40M268.30 358.06H277.40M268.30 359.25H277.40M268.30 360.46H277.40M268.30 361.68H277.40M268.30 362.92H277.40M268.30 364.18H277.40M268.30 365.45H277.40M268.30 366.73H277.40M268.30 368.03H277.40M268.30 369.34H277.40M268.30 370.66H277.40M268.30 372.00H277.40M268.30 373.34H277.40M268.30 374.69H277.40M268.30 376.05H277.40M268.30 377.41H277.40M268.30 378.79H277.40M268.30 380.16H277.40M268.30 381.55H277.40M268.30 382.93H277.40M268.30 384.32H277.40M268.30 385.71H277.40M268.30 387.10H277.40M268.30 388.49H277.40M268.30 389.88H277.40M268.30 391.27H277.40M268.30 392.65H277.40M268.30 394.04H277.40M268.30 395.41H277.40M268.30 396.79H277.40M268.30 398.15H277.40M268.30 399.51H277.40M268.30 400.86H277.40M268.30 402.20H277.40M268.30 403.54H277.40M268.30 404.86H277.40M268.30 406.17H277.40M268.30 407.47H277.40M268.30 408.75H277.40M268.30 410.02H277.40M268.30 411.28H277.40M268.30 412.52H277.40M268.30 413.74H277.40M268.30 414.95H277.40M268.30 416.14H277.40M268.30 417.31H277.40M268.30 418.46H277.40M268.30 419.59H277.40M268.30 420.70H277.40M268.30 421.79H277.40M268.30 422.86H277.40M268.30 423.90H277.40M268.30 424.92H277.40M268.30 425.92H277.40M268.30 426.89H277.40M268.30 427.84H277.40M268.30 428.76H277.40M268.30 429.65H277.40M268.30 430.51H277.40M268.30 431.35H277.40M268.30 432.16H277.40M268.30 432.94H277.40M268.30 433.69H277.40M268.30 434.41H277.40M268.30 435.10H277.40M268.30 435.76H277.40M268.30 436.39H277.40M268.30 436.99H277.40M268.30 437.55H277.40M268.30 438.08H277.40M268.30 438.58H277.40M268.30 439.05H277.40M268.30 439.48H277.40M268.30 439.88H277.40M268.30 440.25H277.40M268.30 440.58H277.40M268.30 440.88H277.40M268.30 441.14H277.40M268.30 441.37H277.40M268.30 441.56H277.40M268.30 441.72H277.40M268.30 441.84H277.40M268.30 441.93H277.40M268.30 441.98H277.40" stroke-width="0.5" stroke="#000"/>
<g transform=""><path d="M66.9 403 L66.9 343.3 Q66.9 341.3 68.9 341.3 L76.4 341.3 Q78.4 341.3 78.4 343.3 L78.4 365 Q78.4 368.6 81 368.6 L81.5 368.6 L81.5 363.7"/><path d="M66.9 345.8 L65.4 345.8 Q64.4 345.8 64.4 346.8 L64.4 368 L66.9 368"/><path d="M64.4 368 L61.5 368.6 L61.5 403"/><line x1="59.70" y1="336.00" x2="59.70" y2="438.00"/><rect x="60.00" y="385.00" width="2.60" height="11.00"/><rect x="62.60" y="387.50" width="1.60" height="5.50" fill="#777"/><rect x="79.00" y="345.50" width="28.60" height="18.20" fill="#fff"/><line x1="86.00" y1="345.50" x2="86.00" y2="363.70"/><rect x="81.00" y="347.00" width="4.60" height="15.30"/><line x1="86.00" y1="349.00" x2="107.60" y2="349.00"/><path d="M86 361.2H97.5V363.7" fill="none"/><rect x="86.50" y="361.40" width="10.80" height="2.10" fill="#ccc" stroke="none"/><rect x="107.60" y="353.00" width="7.00" height="3.60"/><line x1="112.60" y1="353.00" x2="112.60" y2="356.60"/><path d="M89.2 380.5 L92.8 387.4"/><rect x="63.05" y="388.20" width="13.50" height="2.60" rx="1.30" transform="rotate(90.00 69.80 389.50)"/><path d="M162.5 387.4 L74.5 387.4 L68.2 403"/><path d="M73 403 L75.5 387.4"/><line x1="77.80" y1="387.40" x2="77.80" y2="403.00"/><path d="M78.2 382.6V387.4M118.4 382.6V387.4"/><path d="M103.5 387.4V403M105 387.4V403"/><path d="M108.3 403V390.6H123.2V403M108.3 393.5H123.2M110 393.5L110 399.5L112.5 399.5L112.5 403M121.5 393.5L121.5 399.5L119 399.5L119 403"/><path d="M123.2 390.6L124.5 387.4"/><line x1="124.60" y1="387.40" x2="124.60" y2="403.00"/><path d="M162.5 403 L49.6 403 L49.6 418 L162.5 418"/><line x1="49.60" y1="403.00" x2="49.60" y2="418.00" stroke-width="1.6" stroke="#000"/><line x1="63.10" y1="403.00" x2="63.10" y2="418.00"/><line x1="81.40" y1="403.00" x2="81.40" y2="418.00"/><line x1="101.10" y1="403.00" x2="101.10" y2="418.00"/><line x1="103.70" y1="403.00" x2="103.70" y2="418.00"/><line x1="124.80" y1="403.00" x2="124.80" y2="418.00"/><path d="M135.95 418 L135.95 410.97 A1.77 1.77 0 0 1 139.49 410.97 L139.49 418" fill="#fff"/><circle cx="137.72" cy="411.60" r="0.97" stroke-width="0.5" stroke="#555"/><path d="M127.88 418 L127.88 410.95 A1.75 1.75 0 0 1 131.38 410.95 L131.38 418" fill="#fff"/><circle cx="129.63" cy="411.60" r="0.96" stroke-width="0.5" stroke="#555"/><path d="M119.96 418 L119.96 410.92 A1.72 1.72 0 0 1 123.39 410.92 L123.39 418" fill="#fff"/><circle cx="121.68" cy="411.60" r="0.94" stroke-width="0.5" stroke="#555"/><path d="M112.22 418 L112.22 410.88 A1.68 1.68 0 0 1 115.58 410.88 L115.58 418" fill="#fff"/><circle cx="113.90" cy="411.60" r="0.93" stroke-width="0.5" stroke="#555"/><path d="M104.69 418 L104.69 410.84 A1.64 1.64 0 0 1 107.97 410.84 L107.97 418" fill="#fff"/><circle cx="106.33" cy="411.60" r="0.90" stroke-width="0.5" stroke="#555"/><path d="M97.41 418 L97.41 410.79 A1.59 1.59 0 0 1 100.59 410.79 L100.59 418" fill="#fff"/><circle cx="99.00" cy="411.60" r="0.88" stroke-width="0.5" stroke="#555"/><path d="M90.40 418 L90.40 410.74 A1.54 1.54 0 0 1 93.48 410.74 L93.48 418" fill="#fff"/><circle cx="91.94" cy="411.60" r="0.85" stroke-width="0.5" stroke="#555"/><path d="M83.71 418 L83.71 410.68 A1.48 1.48 0 0 1 86.67 410.68 L86.67 418" fill="#fff"/><circle cx="85.19" cy="411.60" r="0.81" stroke-width="0.5" stroke="#555"/><path d="M77.35 418 L77.35 410.62 A1.42 1.42 0 0 1 80.18 410.62 L80.18 418" fill="#fff"/><circle cx="78.76" cy="411.60" r="0.78" stroke-width="0.5" stroke="#555"/><path d="M71.35 418 L71.35 410.55 A1.35 1.35 0 0 1 74.04 410.55 L74.04 418" fill="#fff"/><circle cx="72.70" cy="411.60" r="0.74" stroke-width="0.5" stroke="#555"/><path d="M65.74 418 L65.74 410.47 A1.27 1.27 0 0 1 68.29 410.47 L68.29 418" fill="#fff"/><circle cx="67.02" cy="411.60" r="0.70" stroke-width="0.5" stroke="#555"/><path d="M60.55 418 L60.55 410.39 A1.19 1.19 0 0 1 62.94 410.39 L62.94 418" fill="#fff"/><circle cx="61.74" cy="411.60" r="0.66" stroke-width="0.5" stroke="#555"/><path d="M55.79 418 L55.79 410.31 A1.11 1.11 0 0 1 58.01 410.31 L58.01 418" fill="#fff"/><circle cx="56.90" cy="411.60" r="0.61" stroke-width="0.5" stroke="#555"/><path d="M162.5 398.6 L155.5 398.6 L154 400 L152.6 400 Q150 397.5 146 397.8 L139 397.8 Q137.6 397.8 137.6 399.4 L137.6 403"/><path d="M140 403V399.6H144V403M146 399.4Q150 400 152 403"/><path d="M162.5 398.9 L157.2 398.9 Q156.6 398.9 156.6 399.6 L156.6 403"/><path d="M149.3 403V410.6M151.9 403V410.6H162.5"/><path d="M156.7 410.6V416.4Q157.3 417.4 157.9 416.4V410.6"/><path d="M149.3 410.6 Q147.5 417 139 418"/><path d="M162.5 412.2 H151"/><path d="M139.2 418 Q139.4 421.5 142.3 424.2 M142.3 424.2 H162.5 M143.2 425.8 H162.5"/><path d="M142.3 424.2 C146 436 153.5 442.2 162.5 442.2"/></g>
<g transform="translate(325.0 0) scale(-1 1)"><path d="M66.9 403 L66.9 343.3 Q66.9 341.3 68.9 341.3 L76.4 341.3 Q78.4 341.3 78.4 343.3 L78.4 365 Q78.4 368.6 81 368.6 L81.5 368.6 L81.5 363.7"/><path d="M66.9 345.8 L65.4 345.8 Q64.4 345.8 64.4 346.8 L64.4 368 L66.9 368"/><path d="M64.4 368 L61.5 368.6 L61.5 403"/><line x1="59.70" y1="336.00" x2="59.70" y2="438.00"/><rect x="60.00" y="385.00" width="2.60" height="11.00"/><rect x="62.60" y="387.50" width="1.60" height="5.50" fill="#777"/><rect x="79.00" y="345.50" width="28.60" height="18.20" fill="#fff"/><line x1="86.00" y1="345.50" x2="86.00" y2="363.70"/><rect x="81.00" y="347.00" width="4.60" height="15.30"/><line x1="86.00" y1="349.00" x2="107.60" y2="349.00"/><path d="M86 361.2H97.5V363.7" fill="none"/><rect x="86.50" y="361.40" width="10.80" height="2.10" fill="#ccc" stroke="none"/><rect x="107.60" y="353.00" width="7.00" height="3.60"/><line x1="112.60" y1="353.00" x2="112.60" y2="356.60"/><path d="M89.2 380.5 L92.8 387.4"/><rect x="63.05" y="388.20" width="13.50" height="2.60" rx="1.30" transform="rotate(90.00 69.80 389.50)"/><path d="M162.5 387.4 L74.5 387.4 L68.2 403"/><path d="M73 403 L75.5 387.4"/><line x1="77.80" y1="387.40" x2="77.80" y2="403.00"/><path d="M78.2 382.6V387.4M118.4 382.6V387.4"/><path d="M103.5 387.4V403M105 387.4V403"/><path d="M108.3 403V390.6H123.2V403M108.3 393.5H123.2M110 393.5L110 399.5L112.5 399.5L112.5 403M121.5 393.5L121.5 399.5L119 399.5L119 403"/><path d="M123.2 390.6L124.5 387.4"/><line x1="124.60" y1="387.40" x2="124.60" y2="403.00"/><path d="M162.5 403 L49.6 403 L49.6 418 L162.5 418"/><line x1="49.60" y1="403.00" x2="49.60" y2="418.00" stroke-width="1.6" stroke="#000"/><line x1="63.10" y1="403.00" x2="63.10" y2="418.00"/><line x1="81.40" y1="403.00" x2="81.40" y2="418.00"/><line x1="101.10" y1="403.00" x2="101.10" y2="418.00"/><line x1="103.70" y1="403.00" x2="103.70" y2="418.00"/><line x1="124.80" y1="403.00" x2="124.80" y2="418.00"/><path d="M135.95 418 L135.95 410.97 A1.77 1.77 0 0 1 139.49 410.97 L139.49 418" fill="#fff"/><circle cx="137.72" cy="411.60" r="0.97" stroke-width="0.5" stroke="#555"/><path d="M127.88 418 L127.88 410.95 A1.75 1.75 0 0 1 131.38 410.95 L131.38 418" fill="#fff"/><circle cx="129.63" cy="411.60" r="0.96" stroke-width="0.5" stroke="#555"/><path d="M119.96 418 L119.96 410.92 A1.72 1.72 0 0 1 123.39 410.92 L123.39 418" fill="#fff"/><circle cx="121.68" cy="411.60" r="0.94" stroke-width="0.5" stroke="#555"/><path d="M112.22 418 L112.22 410.88 A1.68 1.68 0 0 1 115.58 410.88 L115.58 418" fill="#fff"/><circle cx="113.90" cy="411.60" r="0.93" stroke-width="0.5" stroke="#555"/><path d="M104.69 418 L104.69 410.84 A1.64 1.64 0 0 1 107.97 410.84 L107.97 418" fill="#fff"/><circle cx="106.33" cy="411.60" r="0.90" stroke-width="0.5" stroke="#555"/><path d="M97.41 418 L97.41 410.79 A1.59 1.59 0 0 1 100.59 410.79 L100.59 418" fill="#fff"/><circle cx="99.00" cy="411.60" r="0.88" stroke-width="0.5" stroke="#555"/><path d="M90.40 418 L90.40 410.74 A1.54 1.54 0 0 1 93.48 410.74 L93.48 418" fill="#fff"/><circle cx="91.94" cy="411.60" r="0.85" stroke-width="0.5" stroke="#555"/><path d="M83.71 418 L83.71 410.68 A1.48 1.48 0 0 1 86.67 410.68 L86.67 418" fill="#fff"/><circle cx="85.19" cy="411.60" r="0.81" stroke-width="0.5" stroke="#555"/><path d="M77.35 418 L77.35 410.62 A1.42 1.42 0 0 1 80.18 410.62 L80.18 418" fill="#fff"/><circle cx="78.76" cy="411.60" r="0.78" stroke-width="0.5" stroke="#555"/><path d="M71.35 418 L71.35 410.55 A1.35 1.35 0 0 1 74.04 410.55 L74.04 418" fill="#fff"/><circle cx="72.70" cy="411.60" r="0.74" stroke-width="0.5" stroke="#555"/><path d="M65.74 418 L65.74 410.47 A1.27 1.27 0 0 1 68.29 410.47 L68.29 418" fill="#fff"/><circle cx="67.02" cy="411.60" r="0.70" stroke-width="0.5" stroke="#555"/><path d="M60.55 418 L60.55 410.39 A1.19 1.19 0 0 1 62.94 410.39 L62.94 418" fill="#fff"/><circle cx="61.74" cy="411.60" r="0.66" stroke-width="0.5" stroke="#555"/><path d="M55.79 418 L55.79 410.31 A1.11 1.11 0 0 1 58.01 410.31 L58.01 418" fill="#fff"/><circle cx="56.90" cy="411.60" r="0.61" stroke-width="0.5" stroke="#555"/><path d="M162.5 398.6 L155.5 398.6 L154 400 L152.6 400 Q150 397.5 146 397.8 L139 397.8 Q137.6 397.8 137.6 399.4 L137.6 403"/><path d="M140 403V399.6H144V403M146 399.4Q150 400 152 403"/><path d="M162.5 398.9 L157.2 398.9 Q156.6 398.9 156.6 399.6 L156.6 403"/><path d="M149.3 403V410.6M151.9 403V410.6H162.5"/><path d="M156.7 410.6V416.4Q157.3 417.4 157.9 416.4V410.6"/><path d="M149.3 410.6 Q147.5 417 139 418"/><path d="M162.5 412.2 H151"/><path d="M139.2 418 Q139.4 421.5 142.3 424.2 M142.3 424.2 H162.5 M143.2 425.8 H162.5"/><path d="M142.3 424.2 C146 436 153.5 442.2 162.5 442.2"/></g>
<path d="M507 403V346M511 403V346M544 403V346M546.2 403V346M507 344H546.2M507 346H546.2"/>
<path d="M478 383H513M478 387.4H513M541 383H578M541 387.4H578"/>
<path d="M480 383V403M497 387.4V403M500 387.4V403M553 387.4V403M556 387.4V403M566 383V403M570 383V403"/>
<path d="M484 385.2H494"/>
<circle cx="493.00" cy="385.20" r="1.40"/>
<path d="M516 346V372M538 346V372"/>
<g transform="rotate(-252 527.0 387.2)"><path d="M560.0 382.9L573.0 383.3L573.0 391.09999999999997L560.0 391.5Z" fill="#dedede"/><rect x="560.00" y="385.70" width="10.20" height="3.00" rx="1.50" fill="#fff"/></g>
<g transform="rotate(-36 527.0 387.2)"><path d="M551.5 382.9L573.0 383.3L573.0 391.09999999999997L551.5 391.5Z" fill="#dedede"/><rect x="551.50" y="385.70" width="18.70" height="3.00" rx="1.50" fill="#fff"/></g>
<rect x="544.40" y="345.60" width="1.90" height="57.40" fill="#fff"/>
<path d="M400.2 402.7 H655 V418 H399.2 Q398.4 410 400.2 402.7Z"/>
<line x1="416.50" y1="402.70" x2="416.50" y2="418.00"/>
<line x1="427.80" y1="402.70" x2="427.80" y2="418.00"/>
<line x1="446.00" y1="402.70" x2="446.00" y2="418.00"/>
<line x1="458.00" y1="402.70" x2="458.00" y2="418.00"/>
<line x1="465.80" y1="402.70" x2="465.80" y2="418.00"/>
<line x1="588.20" y1="402.70" x2="588.20" y2="418.00"/>
<line x1="607.70" y1="402.70" x2="607.70" y2="418.00"/>
<line x1="625.70" y1="402.70" x2="625.70" y2="418.00"/>
<line x1="627.20" y1="402.70" x2="627.20" y2="418.00"/>
<line x1="640.00" y1="402.70" x2="640.00" y2="418.00"/>
<line x1="649.70" y1="402.70" x2="649.70" y2="418.00"/>
<path d="M399.67 418 L399.67 409.80 A0.60 0.60 0 0 1 400.87 409.80 L400.87 418" fill="#fff"/>
<circle cx="400.27" cy="411.60" r="0.33" stroke-width="0.5" stroke="#555"/>
<path d="M653.13 418 L653.13 409.80 A0.60 0.60 0 0 1 654.33 409.80 L654.33 418" fill="#fff"/>
<circle cx="653.73" cy="411.60" r="0.33" stroke-width="0.5" stroke="#555"/>
<path d="M400.49 418 L400.49 409.80 A0.60 0.60 0 0 1 401.69 409.80 L401.69 418" fill="#fff"/>
<circle cx="401.09" cy="411.60" r="0.33" stroke-width="0.5" stroke="#555"/>
<path d="M652.31 418 L652.31 409.80 A0.60 0.60 0 0 1 653.51 409.80 L653.51 418" fill="#fff"/>
<circle cx="652.91" cy="411.60" r="0.33" stroke-width="0.5" stroke="#555"/>
<path d="M401.84 418 L401.84 409.80 A0.60 0.60 0 0 1 403.04 409.80 L403.04 418" fill="#fff"/>
<circle cx="402.44" cy="411.60" r="0.33" stroke-width="0.5" stroke="#555"/>
<path d="M650.96 418 L650.96 409.80 A0.60 0.60 0 0 1 652.16 409.80 L652.16 418" fill="#fff"/>
<circle cx="651.56" cy="411.60" r="0.33" stroke-width="0.5" stroke="#555"/>
<path d="M403.73 418 L403.73 409.80 A0.60 0.60 0 0 1 404.93 409.80 L404.93 418" fill="#fff"/>
<circle cx="404.33" cy="411.60" r="0.33" stroke-width="0.5" stroke="#555"/>
<path d="M649.07 418 L649.07 409.80 A0.60 0.60 0 0 1 650.27 409.80 L650.27 418" fill="#fff"/>
<circle cx="649.67" cy="411.60" r="0.33" stroke-width="0.5" stroke="#555"/>
<path d="M406.06 418 L406.06 409.88 A0.68 0.68 0 0 1 407.42 409.88 L407.42 418" fill="#fff"/>
<circle cx="406.74" cy="411.60" r="0.38" stroke-width="0.5" stroke="#555"/>
<path d="M646.58 418 L646.58 409.88 A0.68 0.68 0 0 1 647.94 409.88 L647.94 418" fill="#fff"/>
<circle cx="647.26" cy="411.60" r="0.38" stroke-width="0.5" stroke="#555"/>
<path d="M408.89 418 L408.89 409.97 A0.77 0.77 0 0 1 410.44 409.97 L410.44 418" fill="#fff"/>
<circle cx="409.67" cy="411.60" r="0.43" stroke-width="0.5" stroke="#555"/>
<path d="M643.56 418 L643.56 409.97 A0.77 0.77 0 0 1 645.11 409.97 L645.11 418" fill="#fff"/>
<circle cx="644.33" cy="411.60" r="0.43" stroke-width="0.5" stroke="#555"/>
<path d="M412.23 418 L412.23 410.06 A0.86 0.86 0 0 1 413.96 410.06 L413.96 418" fill="#fff"/>
<circle cx="413.10" cy="411.60" r="0.47" stroke-width="0.5" stroke="#555"/>
<path d="M640.04 418 L640.04 410.06 A0.86 0.86 0 0 1 641.77 410.06 L641.77 418" fill="#fff"/>
<circle cx="640.90" cy="411.60" r="0.47" stroke-width="0.5" stroke="#555"/>
<path d="M416.06 418 L416.06 410.15 A0.95 0.95 0 0 1 417.96 410.15 L417.96 418" fill="#fff"/>
<circle cx="417.01" cy="411.60" r="0.52" stroke-width="0.5" stroke="#555"/>
<path d="M636.04 418 L636.04 410.15 A0.95 0.95 0 0 1 637.94 410.15 L637.94 418" fill="#fff"/>
<circle cx="636.99" cy="411.60" r="0.52" stroke-width="0.5" stroke="#555"/>
<path d="M420.37 418 L420.37 410.23 A1.03 1.03 0 0 1 422.44 410.23 L422.44 418" fill="#fff"/>
<circle cx="421.40" cy="411.60" r="0.57" stroke-width="0.5" stroke="#555"/>
<path d="M631.56 418 L631.56 410.23 A1.03 1.03 0 0 1 633.63 410.23 L633.63 418" fill="#fff"/>
<circle cx="632.60" cy="411.60" r="0.57" stroke-width="0.5" stroke="#555"/>
<path d="M425.13 418 L425.13 410.31 A1.11 1.11 0 0 1 427.36 410.31 L427.36 418" fill="#fff"/>
<circle cx="426.24" cy="411.60" r="0.61" stroke-width="0.5" stroke="#555"/>
<path d="M626.64 418 L626.64 410.31 A1.11 1.11 0 0 1 628.87 410.31 L628.87 418" fill="#fff"/>
<circle cx="627.76" cy="411.60" r="0.61" stroke-width="0.5" stroke="#555"/>
<path d="M430.33 418 L430.33 410.39 A1.19 1.19 0 0 1 432.71 410.39 L432.71 418" fill="#fff"/>
<circle cx="431.52" cy="411.60" r="0.65" stroke-width="0.5" stroke="#555"/>
<path d="M621.29 418 L621.29 410.39 A1.19 1.19 0 0 1 623.67 410.39 L623.67 418" fill="#fff"/>
<circle cx="622.48" cy="411.60" r="0.65" stroke-width="0.5" stroke="#555"/>
<path d="M435.94 418 L435.94 410.46 A1.26 1.26 0 0 1 438.46 410.46 L438.46 418" fill="#fff"/>
<circle cx="437.20" cy="411.60" r="0.69" stroke-width="0.5" stroke="#555"/>
<path d="M615.54 418 L615.54 410.46 A1.26 1.26 0 0 1 618.06 410.46 L618.06 418" fill="#fff"/>
<circle cx="616.80" cy="411.60" r="0.69" stroke-width="0.5" stroke="#555"/>
<path d="M441.94 418 L441.94 410.53 A1.33 1.33 0 0 1 444.59 410.53 L444.59 418" fill="#fff"/>
<circle cx="443.26" cy="411.60" r="0.73" stroke-width="0.5" stroke="#555"/>
<path d="M609.41 418 L609.41 410.53 A1.33 1.33 0 0 1 612.06 410.53 L612.06 418" fill="#fff"/>
<circle cx="610.74" cy="411.60" r="0.73" stroke-width="0.5" stroke="#555"/>
<path d="M448.30 418 L448.30 410.59 A1.39 1.39 0 0 1 451.08 410.59 L451.08 418" fill="#fff"/>
<circle cx="449.69" cy="411.60" r="0.76" stroke-width="0.5" stroke="#555"/>
<path d="M602.92 418 L602.92 410.59 A1.39 1.39 0 0 1 605.70 410.59 L605.70 418" fill="#fff"/>
<circle cx="604.31" cy="411.60" r="0.76" stroke-width="0.5" stroke="#555"/>
<path d="M455.00 418 L455.00 410.65 A1.45 1.45 0 0 1 457.89 410.65 L457.89 418" fill="#fff"/>
<circle cx="456.44" cy="411.60" r="0.80" stroke-width="0.5" stroke="#555"/>
<path d="M596.11 418 L596.11 410.65 A1.45 1.45 0 0 1 599.00 410.65 L599.00 418" fill="#fff"/>
<circle cx="597.56" cy="411.60" r="0.80" stroke-width="0.5" stroke="#555"/>
<path d="M517.00 418 L517.00 410.80 A1.60 1.60 0 0 1 520.20 410.80 L520.20 418" fill="#fff"/>
<path d="M524.80 418 L524.80 410.80 A1.60 1.60 0 0 1 528.00 410.80 L528.00 418" fill="#fff"/>
<path d="M533.40 418 L533.40 410.80 A1.60 1.60 0 0 1 536.60 410.80 L536.60 418" fill="#fff"/>
<path d="M552.70 418 L552.70 410.80 A1.60 1.60 0 0 1 555.90 410.80 L555.90 418" fill="#fff"/>
<path d="M560.50 418 L560.50 410.80 A1.60 1.60 0 0 1 563.70 410.80 L563.70 418" fill="#fff"/>
<path d="M484.40 418 L484.40 410.80 A1.60 1.60 0 0 1 487.60 410.80 L487.60 418" fill="#fff"/>
<path d="M492.40 418 L492.40 410.80 A1.60 1.60 0 0 1 495.60 410.80 L495.60 418" fill="#fff"/>
<path d="M540.40 418 L540.40 410.80 A1.60 1.60 0 0 1 543.60 410.80 L543.60 418" fill="#fff"/>
<path d="M466.2 387.5H455L448.2 399.2L446.5 402.7M458 387.5V402.7M465.8 387.5V402.7"/>
<path d="M402 402.7Q402.5 398.6 404.2 398.6Q405.8 398.6 406.2 402.7"/>
<path d="M409.2 402.7V399.6Q409.2 398.5 410.4 398.5H421L423 400.2H433L435 398.5H444.5Q446.7 398.5 446.7 400.5V402.7M411.5 402.7V400.3H415.2V402.7M435 398.5V402.7M423 400.2V402.7"/>
<path d="M402.6 418 Q402.8 421.5 405.6 423.8 H447.6 Q450.40000000000003 421.5 450.6 418"/>
<line x1="406.40" y1="425.80" x2="446.80" y2="425.80"/>
<path d="M405.6 423.8 C409.6 436 417.6 442.3 426.6 442.3 C435.6 442.3 443.6 436 447.6 423.8"/>
<path d="M580.7 402.7V398.8H590V402.7M592.7 402.7V395.5H594.5V397.2H598.4V395.5H600.2V402.7M593.5 398.6H599.6M600.2 399.5H607M607 402.7V398.5H614.5V402.7M608.5 402.7V400H611.5V402.7M617.5 402.7Q618 398 620 398Q622 398 622.7 402.7"/>
<path d="M572.2 418 Q572.4000000000001 421.5 575.2 423.8 H617.2 Q620.0 421.5 620.2 418"/>
<line x1="576.00" y1="425.80" x2="616.40" y2="425.80"/>
<path d="M575.2 423.8 C579.2 436 587.2 442.3 596.2 442.3 C605.2 442.3 613.2 436 617.2 423.8"/>
<path d="M472.2 387.2A54.8 54.8 0 1 0 581.8 387.2A54.8 54.8 0 1 0 472.2 387.2Z M481.2 387.2A45.8 45.8 0 1 1 572.8 387.2A45.8 45.8 0 1 1 481.2 387.2Z" fill="#fff" fill-rule="evenodd"/>
<circle cx="527.00" cy="387.20" r="52.20"/>
<circle cx="527.00" cy="387.20" r="48.30"/>
<g transform="rotate(0 527.0 387.2)"><path d="M539.0 382.4L572.4 383.3L572.4 391.09999999999997L539.0 392.0Z" fill="#dedede"/><rect x="545.50" y="385.70" width="24.70" height="3.00" rx="1.50" fill="#fff"/></g>
<g transform="rotate(-72 527.0 387.2)"><path d="M539.0 382.4L572.4 383.3L572.4 391.09999999999997L539.0 392.0Z" fill="#dedede"/><rect x="545.50" y="385.70" width="24.70" height="3.00" rx="1.50" fill="#fff"/></g>
<g transform="rotate(-144 527.0 387.2)"><path d="M539.0 382.4L572.4 383.3L572.4 391.09999999999997L539.0 392.0Z" fill="#dedede"/><rect x="545.50" y="385.70" width="24.70" height="3.00" rx="1.50" fill="#fff"/></g>
<g transform="rotate(-216 527.0 387.2)"><path d="M539.0 382.4L572.4 383.3L572.4 391.09999999999997L539.0 392.0Z" fill="#dedede"/><rect x="545.50" y="385.70" width="24.70" height="3.00" rx="1.50" fill="#fff"/></g>
<g transform="rotate(-288 527.0 387.2)"><path d="M539.0 382.4L572.4 383.3L572.4 391.09999999999997L539.0 392.0Z" fill="#dedede"/><rect x="545.50" y="385.70" width="24.70" height="3.00" rx="1.50" fill="#fff"/></g>
<circle cx="527.00" cy="387.20" r="14.00" fill="#fff"/>
<circle cx="527.00" cy="377.70" r="2.10"/>
<circle cx="527.00" cy="387.20" r="2.10"/>
<circle cx="527.00" cy="396.70" r="2.10"/>
<line x1="513.00" y1="387.20" x2="524.90" y2="387.20"/>
<text font-size="5" font-weight="bold" text-anchor="middle" fill="#111" stroke="#111" stroke-width="0.25" transform="translate(530.6 387.2) rotate(90)" textLength="16.5" lengthAdjust="spacingAndGlyphs">Pololu</text>
<path d="M384.04 86.80A54.80 31.64 0 1 0 493.64 86.80A54.80 31.64 0 1 0 384.04 86.80ZM393.04 86.80A45.80 26.44 0 1 1 484.64 86.80A45.80 26.44 0 1 1 393.04 86.80Z" fill-rule="evenodd" transform="rotate(-60 438.84 86.80)" fill="#fff"/>
<path d="M384.61 87.13A54.80 31.64 0 1 0 494.21 87.13A54.80 31.64 0 1 0 384.61 87.13ZM393.61 87.13A45.80 26.44 0 1 1 485.21 87.13A45.80 26.44 0 1 1 393.61 87.13Z" fill-rule="evenodd" transform="rotate(-60 439.41 87.13)" fill="#fff" stroke="none"/>
<path d="M385.56 87.68A54.80 31.64 0 1 0 495.16 87.68A54.80 31.64 0 1 0 385.56 87.68ZM394.56 87.68A45.80 26.44 0 1 1 486.16 87.68A45.80 26.44 0 1 1 394.56 87.68Z" fill-rule="evenodd" transform="rotate(-60 440.36 87.68)" fill="#fff" stroke="none"/>
<path d="M386.51 88.23A54.80 31.64 0 1 0 496.11 88.23A54.80 31.64 0 1 0 386.51 88.23ZM395.51 88.23A45.80 26.44 0 1 1 487.11 88.23A45.80 26.44 0 1 1 395.51 88.23Z" fill-rule="evenodd" transform="rotate(-60 441.31 88.23)" fill="#fff" stroke="none"/>
<path d="M387.47 88.78A54.80 31.64 0 1 0 497.07 88.78A54.80 31.64 0 1 0 387.47 88.78ZM396.47 88.78A45.80 26.44 0 1 1 488.07 88.78A45.80 26.44 0 1 1 396.47 88.78Z" fill-rule="evenodd" transform="rotate(-60 442.27 88.78)" fill="#fff" stroke="none"/>
<path d="M388.42 89.33A54.80 31.64 0 1 0 498.02 89.33A54.80 31.64 0 1 0 388.42 89.33ZM397.42 89.33A45.80 26.44 0 1 1 489.02 89.33A45.80 26.44 0 1 1 397.42 89.33Z" fill-rule="evenodd" transform="rotate(-60 443.22 89.33)" fill="#fff" stroke="none"/>
<path d="M389.38 89.88A54.80 31.64 0 1 0 498.98 89.88A54.80 31.64 0 1 0 389.38 89.88ZM398.38 89.88A45.80 26.44 0 1 1 489.98 89.88A45.80 26.44 0 1 1 398.38 89.88Z" fill-rule="evenodd" transform="rotate(-60 444.18 89.88)" fill="#fff" stroke="none"/>
<path d="M390.33 90.43A54.80 31.64 0 1 0 499.93 90.43A54.80 31.64 0 1 0 390.33 90.43ZM399.33 90.43A45.80 26.44 0 1 1 490.93 90.43A45.80 26.44 0 1 1 399.33 90.43Z" fill-rule="evenodd" transform="rotate(-60 445.13 90.43)" fill="#fff" stroke="none"/>
<path d="M391.29 90.98A54.80 31.64 0 1 0 500.89 90.98A54.80 31.64 0 1 0 391.29 90.98ZM400.29 90.98A45.80 26.44 0 1 1 491.89 90.98A45.80 26.44 0 1 1 400.29 90.98Z" fill-rule="evenodd" transform="rotate(-60 446.09 90.98)" fill="#fff" stroke="none"/>
<path d="M392.24 91.53A54.80 31.64 0 1 0 501.84 91.53A54.80 31.64 0 1 0 392.24 91.53ZM401.24 91.53A45.80 26.44 0 1 1 492.84 91.53A45.80 26.44 0 1 1 401.24 91.53Z" fill-rule="evenodd" transform="rotate(-60 447.04 91.53)" fill="#fff" stroke="none"/>
<path d="M415.55 136.16 L414.53 135.79 L413.54 135.37 L412.58 134.90 L411.64 134.37 L410.75 133.78 L409.88 133.15 L409.05 132.46 L408.25 131.71 L407.49 130.92 L406.76 130.08 L406.07 129.18 L405.42 128.24 L404.81 127.26 L404.24 126.22 L403.71 125.14 L403.22 124.02 L402.77 122.86 L402.37 121.65 L402.00 120.40 L401.68 119.12 L401.40 117.80 L401.17 116.45 L400.98 115.06 L400.83 113.64 L400.73 112.18 L400.67 110.70 L400.66 109.20 L400.69 107.67 L400.76 106.11 L400.88 104.53 L401.05 102.93 L401.25 101.32 L401.51 99.69 L401.80 98.04 L402.14 96.38 L402.52 94.71 L402.94 93.03 L403.41 91.35 L403.91 89.66 L404.46 87.97 L405.05 86.27 L405.67 84.58 L406.34 82.89 L407.04 81.20 L407.78 79.53 L408.56 77.86 L409.37 76.20 L410.21 74.55 L411.09 72.92 L412.01 71.30 L412.95 69.71 L413.92 68.13 L414.93 66.57 L415.96 65.04 L417.01 63.53 L418.10 62.05 L419.21 60.60 L420.34 59.18 L421.49 57.79 L422.66 56.44 L423.86 55.12 L425.07 53.84 L426.29 52.59 L427.53 51.39 L428.79 50.22 L430.06 49.10 L431.34 48.02 L432.62 46.99 L433.92 46.00 L435.22 45.06 L436.53 44.17 L437.84 43.32 L439.15 42.53 L440.46 41.79 L441.77 41.10 L443.08 40.46 L444.38 39.88 L445.68 39.35 L446.97 38.87 L448.25 38.46 L449.53 38.09 L450.79 37.78 L452.03 37.53 L453.27 37.34 L454.48 37.20 L455.68 37.12 L456.86 37.10 L458.03 37.14 L459.17 37.23 L460.28 37.38 L461.38 37.59 L462.44 37.85 L463.49 38.17 L464.50 38.54 L465.48 38.98 L466.44 39.46 L467.36 40.01 L468.26 40.60 L469.12 41.25 L469.94 41.95 L477.58 46.36 L476.75 45.66 L475.89 45.01 L475.00 44.41 L474.08 43.87 L473.12 43.39 L472.14 42.95 L471.12 42.58 L470.08 42.26 L469.01 41.99 L467.92 41.79 L466.80 41.64 L465.66 41.55 L464.50 41.51 L463.32 41.53 L462.12 41.61 L460.90 41.75 L459.67 41.94 L458.42 42.19 L457.16 42.50 L455.89 42.86 L454.61 43.28 L453.32 43.76 L452.02 44.29 L450.72 44.87 L449.41 45.51 L448.10 46.20 L446.79 46.94 L445.47 47.73 L444.16 48.58 L442.86 49.47 L441.56 50.41 L440.26 51.40 L438.97 52.43 L437.69 53.51 L436.43 54.63 L435.17 55.79 L433.93 57.00 L432.70 58.24 L431.49 59.53 L430.30 60.85 L429.13 62.20 L427.97 63.59 L426.84 65.01 L425.73 66.46 L424.65 67.94 L423.59 69.45 L422.56 70.98 L421.56 72.54 L420.59 74.12 L419.64 75.71 L418.73 77.33 L417.85 78.96 L417.01 80.61 L416.19 82.27 L415.42 83.93 L414.68 85.61 L413.98 87.30 L413.31 88.99 L412.68 90.68 L412.10 92.37 L411.55 94.07 L411.04 95.76 L410.58 97.44 L410.16 99.12 L409.78 100.79 L409.44 102.45 L409.14 104.09 L408.89 105.73 L408.68 107.34 L408.52 108.94 L408.40 110.52 L408.33 112.07 L408.29 113.61 L408.31 115.11 L408.37 116.59 L408.47 118.04 L408.61 119.47 L408.80 120.85 L409.04 122.21 L409.32 123.53 L409.64 124.81 L410.00 126.06 L410.41 127.26 L410.86 128.43 L411.35 129.55 L411.88 130.63 L412.45 131.66 L413.06 132.65 L413.71 133.59 L414.40 134.49 L415.12 135.33 L415.89 136.12 L416.68 136.87 L417.52 137.56 L418.38 138.19 L419.28 138.78 L420.21 139.31 L421.17 139.78 L422.17 140.20 L423.19 140.57 Z" fill="#4a4a4a" stroke="none"/>
<path d="M400.66 109.49L408.29 113.90M400.69 107.60L408.33 112.01M400.79 105.67L408.43 110.08M400.96 103.71L408.60 108.12M401.20 101.72L408.84 106.13M401.50 99.70L409.14 104.11M401.87 97.66L409.51 102.07M402.31 95.61L409.95 100.02M402.81 93.54L410.45 97.94M403.38 91.45L411.01 95.86M404.01 89.36L411.64 93.77M404.70 87.27L412.33 91.68M405.45 85.17L413.09 89.58M406.26 83.08L413.90 87.49M407.13 81.00L414.77 85.41M408.06 78.92L415.69 83.33M409.04 76.86L416.67 81.27M410.07 74.82L417.71 79.23M411.16 72.80L418.80 77.21M412.29 70.81L419.93 75.22M413.48 68.84L421.11 73.25M414.71 66.91L422.34 71.32M415.98 65.01L423.61 69.42M417.29 63.15L424.93 67.56M418.64 61.33L426.28 65.74M420.03 59.56L427.67 63.97M421.45 57.84L429.09 62.25M422.91 56.16L430.54 60.57M424.39 54.55L432.03 58.95M425.90 52.99L433.54 57.39M427.43 51.48L435.07 55.89M428.99 50.05L436.62 54.45M430.56 48.67L438.19 53.08M432.14 47.37L439.78 51.77M433.75 46.13L441.38 50.54M435.36 44.96L442.99 49.37M436.97 43.87L444.61 48.28M438.59 42.86L446.23 47.27M440.22 41.92L447.85 46.33M441.84 41.07L449.48 45.47M443.46 40.29L451.09 44.70M445.07 39.59L452.70 44.00M446.67 38.98L454.30 43.39M448.25 38.46L455.89 42.86M449.83 38.01L457.46 42.42M451.38 37.66L459.02 42.07M452.91 37.39L460.55 41.80M454.42 37.21L462.06 41.62M455.90 37.12L463.54 41.52M457.36 37.11L464.99 41.52M458.78 37.19L466.42 41.60M460.17 37.36L467.81 41.77M461.52 37.62L469.16 42.03M462.83 37.96L470.47 42.37M464.11 38.39L471.74 42.80M465.33 38.91L472.97 43.31M466.52 39.51L474.15 43.91M467.65 40.19L475.29 44.60M412.29 134.75L419.93 139.15M411.16 134.06L418.80 138.47M410.07 133.30L417.71 137.70M409.04 132.45L416.67 136.86M408.06 131.52L415.69 135.93M407.13 130.52L414.77 134.93M406.26 129.44L413.90 133.85M405.45 128.28L413.09 132.69M404.70 127.06L412.33 131.47M404.01 125.76L411.64 130.17M403.38 124.40L411.01 128.80M402.81 122.97L410.45 127.37M402.31 121.47L409.95 125.88M401.87 119.92L409.51 124.33M401.50 118.31L409.14 122.72M401.20 116.64L408.84 121.05M400.96 114.93L408.60 119.34M400.79 113.16L408.43 117.57M400.69 111.35L408.33 115.76" stroke="#9a9a9a" stroke-width="0.45"/>
<path d="M392.24 91.53A54.80 31.64 0 1 0 501.84 91.53A54.80 31.64 0 1 0 392.24 91.53ZM401.24 91.53A45.80 26.44 0 1 1 492.84 91.53A45.80 26.44 0 1 1 401.24 91.53Z" fill-rule="evenodd" transform="rotate(-60 447.04 91.53)" fill="#fff"/>
<path d="M393.75 91.94A54.00 31.18 0 1 0 501.75 91.94A54.00 31.18 0 1 0 393.75 91.94ZM401.95 91.94A45.80 26.44 0 1 1 493.55 91.94A45.80 26.44 0 1 1 401.95 91.94Z" fill-rule="evenodd" transform="rotate(-60 447.75 91.94)" fill="#fff"/>
<ellipse cx="447.75" cy="91.94" rx="51.50" ry="29.74" transform="rotate(-60.00 447.75 91.94)"/>
<ellipse cx="447.75" cy="91.94" rx="48.30" ry="27.89" transform="rotate(-60.00 447.75 91.94)"/>
<path d="M433.82 97.62 L409.42 110.96 L409.42 104.60 L433.82 89.78 Z" fill="#e8e8e8"/>
<path d="M433.82 97.62 L409.42 110.96 L412.25 112.60 L436.65 99.25 Z" fill="#e0e0e0"/>
<path d="M433.82 89.78 L409.42 104.60 L412.25 106.23 L436.65 91.41 Z" fill="#e0e0e0"/>
<path d="M436.65 99.25 L412.25 112.60 L412.25 106.23 L436.65 91.41 Z" fill="#d4d4d4"/>
<path d="M431.70 99.41 L414.73 109.21 L414.73 106.76 L431.70 96.96 Z" fill="#fff"/>
<path d="M436.45 84.07 L429.52 61.05 L434.77 56.06 L442.91 77.92 Z" fill="#e8e8e8"/>
<path d="M436.45 84.07 L429.52 61.05 L432.35 62.69 L439.28 85.70 Z" fill="#e0e0e0"/>
<path d="M442.91 77.92 L434.77 56.06 L437.60 57.69 L445.74 79.55 Z" fill="#e0e0e0"/>
<path d="M439.28 85.70 L432.35 62.69 L437.60 57.69 L445.74 79.55 Z" fill="#d4d4d4"/>
<path d="M439.97 79.04 L434.73 63.43 L436.75 61.50 L441.99 77.11 Z" fill="#fff"/>
<path d="M447.17 77.06 L467.28 49.49 L470.53 52.77 L451.16 81.10 Z" fill="#e8e8e8"/>
<path d="M447.17 77.06 L467.28 49.49 L470.11 51.12 L450.00 78.69 Z" fill="#e0e0e0"/>
<path d="M451.16 81.10 L470.53 52.77 L473.35 54.40 L453.99 82.73 Z" fill="#e0e0e0"/>
<path d="M450.00 78.69 L470.11 51.12 L473.35 54.40 L453.99 82.73 Z" fill="#d4d4d4"/>
<path d="M455.38 74.41 L469.11 54.96 L470.36 56.23 L456.63 75.67 Z" fill="#fff"/>
<path d="M451.16 86.27 L470.53 92.25 L467.28 99.27 L447.17 94.92 Z" fill="#e8e8e8"/>
<path d="M451.16 86.27 L470.53 92.25 L473.35 93.88 L453.99 87.91 Z" fill="#e0e0e0"/>
<path d="M447.17 94.92 L467.28 99.27 L470.11 100.90 L450.00 96.55 Z" fill="#e0e0e0"/>
<path d="M453.99 87.91 L473.35 93.88 L470.11 100.90 L450.00 96.55 Z" fill="#d4d4d4"/>
<path d="M456.63 91.93 L470.36 95.52 L469.11 98.22 L455.38 94.63 Z" fill="#fff"/>
<path d="M442.91 98.98 L434.77 130.24 L429.52 131.30 L436.45 100.28 Z" fill="#e8e8e8"/>
<path d="M442.91 98.98 L434.77 130.24 L437.60 131.88 L445.74 100.61 Z" fill="#e0e0e0"/>
<path d="M436.45 100.28 L429.52 131.30 L432.35 132.94 L439.28 101.92 Z" fill="#e0e0e0"/>
<path d="M445.74 100.61 L437.60 131.88 L432.35 132.94 L439.28 101.92 Z" fill="#d4d4d4"/>
<path d="M441.99 107.38 L436.75 129.04 L434.73 129.45 L439.97 107.79 Z" fill="#fff"/>
<ellipse cx="442.30" cy="88.80" rx="14.00" ry="8.08" transform="rotate(-60.00 442.30 88.80)" fill="#fff"/>
<path d="M449.30 76.68 L456.02 80.55 L442.02 104.80 L435.30 100.92 Z" fill="#fff" stroke="none"/>
<line x1="449.30" y1="76.68" x2="456.02" y2="80.55"/>
<line x1="435.30" y1="100.92" x2="442.02" y2="104.80"/>
<ellipse cx="449.02" cy="92.68" rx="14.00" ry="8.08" transform="rotate(-60.00 449.02 92.68)" fill="#fff"/>
<path d="M423.86 196.18V207.18A24 13.8 0 0 0 471.86 207.18V196.18Z" fill="#fff"/>
<path d="M423.86 204.68A24 13.8 0 0 0 471.86 204.68" fill="none"/>
<path d="M427.86 214.18Q439.86 228.18 455.86 223.18" fill="none"/>
<g transform="matrix(0.7071 0.4082 -0.7071 0.4082 497.918 39.063)"><path d="M49.17 67.80 A129.2 127.75 0 0 1 275.83 67.80 Q277.83 72.40 273.33 72.40 L259.4 72.4 Q260.4 72.4 260.4 73.4 L260.4 185.7 L273.38 185.7 Q277.88 185.70 275.88 190.40 A129.2 127.75 0 0 1 49.12 190.40 Q47.12 185.70 51.62 185.70 L64.6 185.7 L64.6 73.4 Q64.6 72.4 65.6 72.4 L51.67 72.4 Q47.17 72.40 49.17 67.80 Z" fill="#fff"/></g>
<g transform="matrix(0.7071 0.4082 -0.7071 0.4082 497.918 38.089)"><path d="M49.17 67.80 A129.2 127.75 0 0 1 275.83 67.80 Q277.83 72.40 273.33 72.40 L259.4 72.4 Q260.4 72.4 260.4 73.4 L260.4 185.7 L273.38 185.7 Q277.88 185.70 275.88 190.40 A129.2 127.75 0 0 1 49.12 190.40 Q47.12 185.70 51.62 185.70 L64.6 185.7 L64.6 73.4 Q64.6 72.4 65.6 72.4 L51.67 72.4 Q47.17 72.40 49.17 67.80 Z" fill="#fff" stroke="none"/></g>
<g transform="matrix(0.7071 0.4082 -0.7071 0.4082 497.918 37.116)"><path d="M49.17 67.80 A129.2 127.75 0 0 1 275.83 67.80 Q277.83 72.40 273.33 72.40 L259.4 72.4 Q260.4 72.4 260.4 73.4 L260.4 185.7 L273.38 185.7 Q277.88 185.70 275.88 190.40 A129.2 127.75 0 0 1 49.12 190.40 Q47.12 185.70 51.62 185.70 L64.6 185.7 L64.6 73.4 Q64.6 72.4 65.6 72.4 L51.67 72.4 Q47.17 72.40 49.17 67.80 Z" fill="#fff" stroke="none"/></g>
<g transform="matrix(0.7071 0.4082 -0.7071 0.4082 497.918 36.142)"><path d="M49.17 67.80 A129.2 127.75 0 0 1 275.83 67.80 Q277.83 72.40 273.33 72.40 L259.4 72.4 Q260.4 72.4 260.4 73.4 L260.4 185.7 L273.38 185.7 Q277.88 185.70 275.88 190.40 A129.2 127.75 0 0 1 49.12 190.40 Q47.12 185.70 51.62 185.70 L64.6 185.7 L64.6 73.4 Q64.6 72.4 65.6 72.4 L51.67 72.4 Q47.17 72.40 49.17 67.80 Z" fill="#fff" stroke="none"/></g>
<g transform="matrix(0.7071 0.4082 -0.7071 0.4082 497.918 35.169)"><path d="M49.17 67.80 A129.2 127.75 0 0 1 275.83 67.80 Q277.83 72.40 273.33 72.40 L259.4 72.4 Q260.4 72.4 260.4 73.4 L260.4 185.7 L273.38 185.7 Q277.88 185.70 275.88 190.40 A129.2 127.75 0 0 1 49.12 190.40 Q47.12 185.70 51.62 185.70 L64.6 185.7 L64.6 73.4 Q64.6 72.4 65.6 72.4 L51.67 72.4 Q47.17 72.40 49.17 67.80 Z" fill="#fff" stroke="none"/></g>
<g transform="matrix(0.7071 0.4082 -0.7071 0.4082 497.918 34.195)"><path d="M49.17 67.80 A129.2 127.75 0 0 1 275.83 67.80 Q277.83 72.40 273.33 72.40 L259.4 72.4 Q260.4 72.4 260.4 73.4 L260.4 185.7 L273.38 185.7 Q277.88 185.70 275.88 190.40 A129.2 127.75 0 0 1 49.12 190.40 Q47.12 185.70 51.62 185.70 L64.6 185.7 L64.6 73.4 Q64.6 72.4 65.6 72.4 L51.67 72.4 Q47.17 72.40 49.17 67.80 Z" fill="#fff" stroke="none"/></g>
<g transform="matrix(0.7071 0.4082 -0.7071 0.4082 497.918 33.222)"><path d="M49.17 67.80 A129.2 127.75 0 0 1 275.83 67.80 Q277.83 72.40 273.33 72.40 L259.4 72.4 Q260.4 72.4 260.4 73.4 L260.4 185.7 L273.38 185.7 Q277.88 185.70 275.88 190.40 A129.2 127.75 0 0 1 49.12 190.40 Q47.12 185.70 51.62 185.70 L64.6 185.7 L64.6 73.4 Q64.6 72.4 65.6 72.4 L51.67 72.4 Q47.17 72.40 49.17 67.80 Z" fill="#fff" stroke="none"/></g>
<g transform="matrix(0.7071 0.4082 -0.7071 0.4082 497.918 32.248)"><path d="M49.17 67.80 A129.2 127.75 0 0 1 275.83 67.80 Q277.83 72.40 273.33 72.40 L259.4 72.4 Q260.4 72.4 260.4 73.4 L260.4 185.7 L273.38 185.7 Q277.88 185.70 275.88 190.40 A129.2 127.75 0 0 1 49.12 190.40 Q47.12 185.70 51.62 185.70 L64.6 185.7 L64.6 73.4 Q64.6 72.4 65.6 72.4 L51.67 72.4 Q47.17 72.40 49.17 67.80 Z" fill="#fff" stroke="none"/></g>
<g transform="matrix(0.7071 0.4082 -0.7071 0.4082 497.918 31.275)"><path d="M49.17 67.80 A129.2 127.75 0 0 1 275.83 67.80 Q277.83 72.40 273.33 72.40 L259.4 72.4 Q260.4 72.4 260.4 73.4 L260.4 185.7 L273.38 185.7 Q277.88 185.70 275.88 190.40 A129.2 127.75 0 0 1 49.12 190.40 Q47.12 185.70 51.62 185.70 L64.6 185.7 L64.6 73.4 Q64.6 72.4 65.6 72.4 L51.67 72.4 Q47.17 72.40 49.17 67.80 Z" fill="#fff" stroke="none"/></g>
<g transform="matrix(0.7071 0.4082 -0.7071 0.4082 497.918 30.301)"><path d="M49.17 67.80 A129.2 127.75 0 0 1 275.83 67.80 Q277.83 72.40 273.33 72.40 L259.4 72.4 Q260.4 72.4 260.4 73.4 L260.4 185.7 L273.38 185.7 Q277.88 185.70 275.88 190.40 A129.2 127.75 0 0 1 49.12 190.40 Q47.12 185.70 51.62 185.70 L64.6 185.7 L64.6 73.4 Q64.6 72.4 65.6 72.4 L51.67 72.4 Q47.17 72.40 49.17 67.80 Z" fill="#fff" stroke="none"/></g>
<g transform="matrix(0.7071 0.4082 -0.7071 0.4082 497.918 29.328)"><path d="M49.17 67.80 A129.2 127.75 0 0 1 275.83 67.80 Q277.83 72.40 273.33 72.40 L259.4 72.4 Q260.4 72.4 260.4 73.4 L260.4 185.7 L273.38 185.7 Q277.88 185.70 275.88 190.40 A129.2 127.75 0 0 1 49.12 190.40 Q47.12 185.70 51.62 185.70 L64.6 185.7 L64.6 73.4 Q64.6 72.4 65.6 72.4 L51.67 72.4 Q47.17 72.40 49.17 67.80 Z" fill="#fff" stroke="none"/></g>
<g transform="matrix(0.7071 0.4082 -0.7071 0.4082 497.918 28.354)"><path d="M49.17 67.80 A129.2 127.75 0 0 1 275.83 67.80 Q277.83 72.40 273.33 72.40 L259.4 72.4 Q260.4 72.4 260.4 73.4 L260.4 185.7 L273.38 185.7 Q277.88 185.70 275.88 190.40 A129.2 127.75 0 0 1 49.12 190.40 Q47.12 185.70 51.62 185.70 L64.6 185.7 L64.6 73.4 Q64.6 72.4 65.6 72.4 L51.67 72.4 Q47.17 72.40 49.17 67.80 Z" fill="#fff" stroke="none"/></g>
<g transform="matrix(0.7071 0.4082 -0.7071 0.4082 497.918 27.381)"><path d="M49.17 67.80 A129.2 127.75 0 0 1 275.83 67.80 Q277.83 72.40 273.33 72.40 L259.4 72.4 Q260.4 72.4 260.4 73.4 L260.4 185.7 L273.38 185.7 Q277.88 185.70 275.88 190.40 A129.2 127.75 0 0 1 49.12 190.40 Q47.12 185.70 51.62 185.70 L64.6 185.7 L64.6 73.4 Q64.6 72.4 65.6 72.4 L51.67 72.4 Q47.17 72.40 49.17 67.80 Z" fill="#fff" stroke="none"/></g>
<path d="M649.97 155.24L649.97 150.75Q649.97 148.98 649.97 153.75L649.97 158.24Z"/>
<line x1="649.93" y1="160.96" x2="649.93" y2="148.30"/>
<path d="M649.92 160.09L649.92 155.60Q649.75 153.83 649.58 158.59L649.58 163.08Z"/>
<path d="M649.31 164.93L649.31 160.43Q648.97 158.66 648.63 163.41L648.63 167.90Z"/>
<path d="M648.15 169.73L648.15 165.23Q647.65 163.44 647.14 168.18L647.14 172.67Z"/>
<line x1="646.78" y1="175.36" x2="646.78" y2="162.71"/>
<path d="M646.46 174.47L646.46 169.98Q645.78 168.16 645.11 172.88L645.11 177.37Z"/>
<path d="M557.96 227.68L557.96 223.19Q555.45 220.31 552.94 223.96L552.94 228.45Z"/>
<path d="M549.83 228.85L549.83 224.36Q547.28 221.38 544.73 224.94L544.73 229.43Z"/>
<line x1="543.14" y1="231.36" x2="543.14" y2="218.70"/>
<path d="M541.57 229.71L541.57 225.22Q538.99 222.15 536.41 225.61L536.41 230.10Z"/>
<path d="M533.22 230.25L533.22 225.76Q530.63 222.60 528.03 225.96L528.03 230.45Z"/>
<path d="M524.82 230.48L524.82 225.99Q522.22 222.73 519.63 225.99L519.63 230.48Z"/>
<line x1="518.02" y1="232.23" x2="518.02" y2="219.57"/>
<path d="M516.42 230.40L516.42 225.91Q513.82 222.54 511.23 225.71L511.23 230.20Z"/>
<path d="M508.03 229.99L508.03 225.50Q505.45 222.04 502.87 225.11L502.87 229.60Z"/>
<path d="M499.70 229.27L499.70 224.78Q497.15 221.22 494.60 224.19L494.60 228.68Z"/>
<line x1="493.03" y1="230.25" x2="493.03" y2="217.59"/>
<path d="M491.46 228.24L491.46 223.75Q488.95 220.09 486.44 222.97L486.44 227.46Z"/>
<path d="M483.35 226.90L483.35 222.41Q480.89 218.66 478.43 221.44L478.43 225.93Z"/>
<path d="M475.41 225.25L475.41 220.76Q473.01 216.92 470.60 219.61L470.60 224.10Z"/>
<line x1="469.14" y1="225.50" x2="469.14" y2="212.84"/>
<path d="M467.66 223.31L467.66 218.82Q465.33 214.89 463.00 217.50L463.00 221.99Z"/>
<path d="M460.14 221.09L460.14 216.60Q457.89 212.58 455.64 215.10L455.64 219.59Z"/>
<path d="M452.89 218.59L452.89 214.10Q450.73 210.00 448.56 212.43L448.56 216.92Z"/>
<line x1="447.26" y1="218.16" x2="447.26" y2="205.50"/>
<path d="M445.93 215.82L445.93 211.33Q443.87 207.15 441.80 209.50L441.80 213.99Z"/>
<path d="M439.29 212.79L439.29 208.30Q437.34 204.05 435.38 206.32L435.38 210.81Z"/>
<path d="M433.01 209.53L433.01 205.04Q431.17 200.71 429.33 202.91L429.33 207.40Z"/>
<line x1="428.23" y1="208.51" x2="428.23" y2="195.85"/>
<path d="M427.10 206.03L427.10 201.54Q425.39 197.15 423.67 199.29L423.67 203.78Z"/>
<path d="M421.60 202.33L421.60 197.84Q420.02 193.38 418.43 195.45L418.43 199.94Z"/>
<path d="M416.53 198.42L416.53 193.93Q415.08 189.42 413.64 191.44L413.64 195.93Z"/>
<line x1="412.78" y1="196.92" x2="412.78" y2="184.27"/>
<path d="M411.90 194.34L411.90 189.85Q410.60 185.28 409.30 187.25L409.30 191.74Z"/>
<path d="M407.75 190.09L407.75 185.60Q406.60 180.99 405.45 182.91L405.45 187.40Z"/>
<path d="M404.08 185.70L404.08 181.21Q403.08 176.56 402.09 178.44L402.09 182.93Z"/>
<line x1="401.52" y1="183.85" x2="401.52" y2="171.19"/>
<path d="M400.91 181.18L400.91 176.69Q400.08 172.01 399.24 173.85L399.24 178.34Z"/>
<path d="M398.26 176.56L398.26 172.07Q397.59 167.35 396.92 169.17L396.92 173.66Z"/>
<path d="M396.14 171.85L396.14 167.36Q395.64 162.62 395.13 164.41L395.13 168.90Z"/>
<line x1="394.86" y1="169.78" x2="394.86" y2="157.13"/>
<path d="M394.56 167.07L394.56 162.58Q394.22 157.83 393.88 159.61L393.88 164.10Z"/>
<path d="M393.52 162.25L393.52 157.76Q393.35 152.99 393.18 154.76L393.18 159.25Z"/>
<path d="M393.03 157.40L393.03 152.91Q393.03 148.14 393.03 149.91L393.03 154.40Z"/>
<line x1="393.07" y1="155.27" x2="393.07" y2="142.61"/>
<line x1="393.03" y1="157.70" x2="393.03" y2="145.04"/>
<g transform="matrix(0.7071 0.4082 -0.7071 0.4082 497.918 26.407)" class="ns"><path d="M49.17 67.80 A129.2 127.75 0 0 1 275.83 67.80 Q277.83 72.40 273.33 72.40 L259.4 72.4 Q260.4 72.4 260.4 73.4 L260.4 185.7 L273.38 185.7 Q277.88 185.70 275.88 190.40 A129.2 127.75 0 0 1 49.12 190.40 Q47.12 185.70 51.62 185.70 L64.6 185.7 L64.6 73.4 Q64.6 72.4 65.6 72.4 L51.67 72.4 Q47.17 72.40 49.17 67.80 Z" fill="#fff"/><rect x="56.08" y="58.50" width="4.80" height="2.30" rx="0.70" transform="rotate(-56.25 58.48 59.65)"/><rect x="56.08" y="197.50" width="4.80" height="2.30" rx="0.70" transform="rotate(56.25 58.48 198.65)"/><rect x="60.85" y="51.84" width="4.80" height="2.30" rx="0.70" transform="rotate(-52.50 63.25 52.99)"/><rect x="60.85" y="204.16" width="4.80" height="2.30" rx="0.70" transform="rotate(52.50 63.25 205.31)"/><rect x="66.04" y="45.52" width="4.80" height="2.30" rx="0.70" transform="rotate(-48.75 68.44 46.67)"/><rect x="66.04" y="210.48" width="4.80" height="2.30" rx="0.70" transform="rotate(48.75 68.44 211.63)"/><rect x="71.64" y="39.54" width="4.80" height="2.30" rx="0.70" transform="rotate(-45.00 74.04 40.69)"/><rect x="71.64" y="216.46" width="4.80" height="2.30" rx="0.70" transform="rotate(45.00 74.04 217.61)"/><rect x="77.62" y="33.94" width="4.80" height="2.30" rx="0.70" transform="rotate(-41.25 80.02 35.09)"/><rect x="77.62" y="222.06" width="4.80" height="2.30" rx="0.70" transform="rotate(41.25 80.02 223.21)"/><rect x="83.94" y="28.75" width="4.80" height="2.30" rx="0.70" transform="rotate(-37.50 86.34 29.90)"/><rect x="83.94" y="227.25" width="4.80" height="2.30" rx="0.70" transform="rotate(37.50 86.34 228.40)"/><rect x="90.60" y="23.98" width="4.80" height="2.30" rx="0.70" transform="rotate(-33.75 93.00 25.13)"/><rect x="90.60" y="232.02" width="4.80" height="2.30" rx="0.70" transform="rotate(33.75 93.00 233.17)"/><rect x="97.55" y="19.66" width="4.80" height="2.30" rx="0.70" transform="rotate(-30.00 99.95 20.81)"/><rect x="97.55" y="236.34" width="4.80" height="2.30" rx="0.70" transform="rotate(30.00 99.95 237.49)"/><rect x="104.77" y="15.80" width="4.80" height="2.30" rx="0.70" transform="rotate(-26.25 107.17 16.95)"/><rect x="104.77" y="240.20" width="4.80" height="2.30" rx="0.70" transform="rotate(26.25 107.17 241.35)"/><rect x="112.23" y="12.42" width="4.80" height="2.30" rx="0.70" transform="rotate(-22.50 114.63 13.57)"/><rect x="112.23" y="243.58" width="4.80" height="2.30" rx="0.70" transform="rotate(22.50 114.63 244.73)"/><rect x="119.89" y="9.54" width="4.80" height="2.30" rx="0.70" transform="rotate(-18.75 122.29 10.69)"/><rect x="119.89" y="246.46" width="4.80" height="2.30" rx="0.70" transform="rotate(18.75 122.29 247.61)"/><rect x="127.72" y="7.16" width="4.80" height="2.30" rx="0.70" transform="rotate(-15.00 130.12 8.31)"/><rect x="127.72" y="248.84" width="4.80" height="2.30" rx="0.70" transform="rotate(15.00 130.12 249.99)"/><rect x="135.69" y="5.30" width="4.80" height="2.30" rx="0.70" transform="rotate(-11.25 138.09 6.45)"/><rect x="135.69" y="250.70" width="4.80" height="2.30" rx="0.70" transform="rotate(11.25 138.09 251.85)"/><rect x="143.77" y="3.97" width="4.80" height="2.30" rx="0.70" transform="rotate(-7.50 146.17 5.12)"/><rect x="151.92" y="3.17" width="4.80" height="2.30" rx="0.70" transform="rotate(-3.75 154.32 4.32)"/><rect x="160.10" y="2.90" width="4.80" height="2.30" rx="0.70"/><rect x="168.28" y="3.17" width="4.80" height="2.30" rx="0.70" transform="rotate(3.75 170.68 4.32)"/><rect x="176.43" y="3.97" width="4.80" height="2.30" rx="0.70" transform="rotate(7.50 178.83 5.12)"/><rect x="184.51" y="5.30" width="4.80" height="2.30" rx="0.70" transform="rotate(11.25 186.91 6.45)"/><rect x="184.51" y="250.70" width="4.80" height="2.30" rx="0.70" transform="rotate(-11.25 186.91 251.85)"/><rect x="192.48" y="7.16" width="4.80" height="2.30" rx="0.70" transform="rotate(15.00 194.88 8.31)"/><rect x="192.48" y="248.84" width="4.80" height="2.30" rx="0.70" transform="rotate(-15.00 194.88 249.99)"/><rect x="200.31" y="9.54" width="4.80" height="2.30" rx="0.70" transform="rotate(18.75 202.71 10.69)"/><rect x="200.31" y="246.46" width="4.80" height="2.30" rx="0.70" transform="rotate(-18.75 202.71 247.61)"/><rect x="207.97" y="12.42" width="4.80" height="2.30" rx="0.70" transform="rotate(22.50 210.37 13.57)"/><rect x="207.97" y="243.58" width="4.80" height="2.30" rx="0.70" transform="rotate(-22.50 210.37 244.73)"/><rect x="215.43" y="15.80" width="4.80" height="2.30" rx="0.70" transform="rotate(26.25 217.83 16.95)"/><rect x="215.43" y="240.20" width="4.80" height="2.30" rx="0.70" transform="rotate(-26.25 217.83 241.35)"/><rect x="222.65" y="19.66" width="4.80" height="2.30" rx="0.70" transform="rotate(30.00 225.05 20.81)"/><rect x="222.65" y="236.34" width="4.80" height="2.30" rx="0.70" transform="rotate(-30.00 225.05 237.49)"/><rect x="229.60" y="23.98" width="4.80" height="2.30" rx="0.70" transform="rotate(33.75 232.00 25.13)"/><rect x="229.60" y="232.02" width="4.80" height="2.30" rx="0.70" transform="rotate(-33.75 232.00 233.17)"/><rect x="236.26" y="28.75" width="4.80" height="2.30" rx="0.70" transform="rotate(37.50 238.66 29.90)"/><rect x="236.26" y="227.25" width="4.80" height="2.30" rx="0.70" transform="rotate(-37.50 238.66 228.40)"/><rect x="242.58" y="33.94" width="4.80" height="2.30" rx="0.70" transform="rotate(41.25 244.98 35.09)"/><rect x="242.58" y="222.06" width="4.80" height="2.30" rx="0.70" transform="rotate(-41.25 244.98 223.21)"/><rect x="248.56" y="39.54" width="4.80" height="2.30" rx="0.70" transform="rotate(45.00 250.96 40.69)"/><rect x="248.56" y="216.46" width="4.80" height="2.30" rx="0.70" transform="rotate(-45.00 250.96 217.61)"/><rect x="254.16" y="45.52" width="4.80" height="2.30" rx="0.70" transform="rotate(48.75 256.56 46.67)"/><rect x="254.16" y="210.48" width="4.80" height="2.30" rx="0.70" transform="rotate(-48.75 256.56 211.63)"/><rect x="259.35" y="51.84" width="4.80" height="2.30" rx="0.70" transform="rotate(52.50 261.75 52.99)"/><rect x="259.35" y="204.16" width="4.80" height="2.30" rx="0.70" transform="rotate(-52.50 261.75 205.31)"/><rect x="264.12" y="58.50" width="4.80" height="2.30" rx="0.70" transform="rotate(56.25 266.52 59.65)"/><rect x="264.12" y="197.50" width="4.80" height="2.30" rx="0.70" transform="rotate(-56.25 266.52 198.65)"/></g>
<g transform="translate(-2 0)">
<g transform="matrix(0.7071 0.4082 -0.7071 0.4082 497.918 27.224)" class="ns"><circle cx="131.20" cy="24.20" r="2.55"/><circle cx="144.90" cy="24.20" r="2.55"/><circle cx="110.65" cy="36.00" r="2.55"/><circle cx="124.35" cy="36.00" r="2.55"/><circle cx="90.10" cy="47.80" r="2.55"/><circle cx="103.80" cy="47.80" r="2.55"/><circle cx="117.50" cy="47.80" r="2.55"/><circle cx="131.20" cy="47.80" r="2.55"/><circle cx="83.25" cy="59.60" r="2.55"/><circle cx="96.95" cy="59.60" r="2.55"/><circle cx="110.65" cy="59.60" r="2.55"/><circle cx="76.40" cy="71.40" r="2.55"/><circle cx="90.10" cy="71.40" r="2.55"/><circle cx="103.80" cy="71.40" r="2.55"/><circle cx="117.50" cy="71.40" r="2.55"/><circle cx="83.25" cy="83.20" r="2.55"/><circle cx="96.95" cy="83.20" r="2.55"/><circle cx="110.65" cy="83.20" r="2.55"/><circle cx="124.35" cy="83.20" r="2.55"/><circle cx="139.80" cy="13.50" r="2.55"/><circle cx="117.80" cy="20.20" r="2.55"/><circle cx="97.30" cy="30.80" r="2.55"/><circle cx="79.50" cy="45.80" r="2.55"/><circle cx="65.40" cy="63.00" r="2.55"/><circle cx="79.60" cy="99.00" r="2.55"/><circle cx="132.00" cy="15.00" r="1.75"/><circle cx="125.00" cy="17.20" r="1.75"/><circle cx="138.00" cy="20.00" r="1.75"/><circle cx="110.50" cy="23.20" r="1.75"/><circle cx="103.80" cy="26.80" r="1.75"/><circle cx="124.50" cy="28.30" r="1.75"/><circle cx="117.50" cy="32.00" r="1.75"/><circle cx="91.00" cy="35.50" r="1.75"/><circle cx="85.00" cy="40.20" r="1.75"/><circle cx="104.00" cy="40.00" r="1.75"/><circle cx="97.00" cy="43.80" r="1.75"/><circle cx="131.00" cy="39.80" r="1.75"/><circle cx="83.50" cy="51.50" r="1.75"/><circle cx="73.80" cy="51.40" r="1.75"/><circle cx="69.60" cy="56.20" r="1.75"/><circle cx="76.80" cy="63.20" r="1.75"/><circle cx="76.60" cy="79.20" r="1.75"/><circle cx="76.60" cy="87.00" r="1.75"/><circle cx="90.40" cy="87.00" r="1.75"/><circle cx="83.40" cy="91.00" r="1.75"/><circle cx="131.00" cy="79.20" r="1.75"/><rect x="108.98" y="40.25" width="10.20" height="3.30" rx="1.65" transform="rotate(149.86 114.08 41.90)"/><rect x="88.43" y="52.05" width="10.20" height="3.30" rx="1.65" transform="rotate(149.86 93.53 53.70)"/><rect x="119.25" y="46.15" width="10.20" height="3.30" rx="1.65" transform="rotate(90.00 124.35 47.80)"/><rect x="108.98" y="52.05" width="10.20" height="3.30" rx="1.65" transform="rotate(210.14 114.08 53.70)"/><rect x="98.70" y="57.95" width="10.20" height="3.30" rx="1.65" transform="rotate(90.00 103.80 59.60)"/><rect x="88.43" y="63.85" width="10.20" height="3.30" rx="1.65" transform="rotate(210.14 93.53 65.50)"/><rect x="108.98" y="63.85" width="10.20" height="3.30" rx="1.65" transform="rotate(149.86 114.08 65.50)"/><rect x="78.15" y="69.75" width="10.20" height="3.30" rx="1.65" transform="rotate(90.00 83.25 71.40)"/><rect x="88.43" y="75.65" width="10.20" height="3.30" rx="1.65" transform="rotate(149.86 93.53 77.30)"/><rect x="108.98" y="75.65" width="10.20" height="3.30" rx="1.65" transform="rotate(210.14 114.08 77.30)"/><rect x="98.70" y="81.55" width="10.20" height="3.30" rx="1.65" transform="rotate(90.00 103.80 83.20)"/><rect x="129.40" y="28.55" width="10.20" height="3.30" rx="1.65" transform="rotate(-30.00 134.50 30.20)"/><rect x="119.30" y="68.95" width="10.20" height="3.30" rx="1.65" transform="rotate(90.00 124.40 70.60)"/><circle cx="193.80" cy="24.20" r="2.55"/><circle cx="180.10" cy="24.20" r="2.55"/><circle cx="214.35" cy="36.00" r="2.55"/><circle cx="200.65" cy="36.00" r="2.55"/><circle cx="234.90" cy="47.80" r="2.55"/><circle cx="221.20" cy="47.80" r="2.55"/><circle cx="207.50" cy="47.80" r="2.55"/><circle cx="193.80" cy="47.80" r="2.55"/><circle cx="241.75" cy="59.60" r="2.55"/><circle cx="228.05" cy="59.60" r="2.55"/><circle cx="214.35" cy="59.60" r="2.55"/><circle cx="248.60" cy="71.40" r="2.55"/><circle cx="234.90" cy="71.40" r="2.55"/><circle cx="221.20" cy="71.40" r="2.55"/><circle cx="207.50" cy="71.40" r="2.55"/><circle cx="241.75" cy="83.20" r="2.55"/><circle cx="228.05" cy="83.20" r="2.55"/><circle cx="214.35" cy="83.20" r="2.55"/><circle cx="200.65" cy="83.20" r="2.55"/><circle cx="185.20" cy="13.50" r="2.55"/><circle cx="207.20" cy="20.20" r="2.55"/><circle cx="227.70" cy="30.80" r="2.55"/><circle cx="245.50" cy="45.80" r="2.55"/><circle cx="259.60" cy="63.00" r="2.55"/><circle cx="245.40" cy="99.00" r="2.55"/><circle cx="193.00" cy="15.00" r="1.75"/><circle cx="200.00" cy="17.20" r="1.75"/><circle cx="187.00" cy="20.00" r="1.75"/><circle cx="214.50" cy="23.20" r="1.75"/><circle cx="221.20" cy="26.80" r="1.75"/><circle cx="200.50" cy="28.30" r="1.75"/><circle cx="207.50" cy="32.00" r="1.75"/><circle cx="234.00" cy="35.50" r="1.75"/><circle cx="240.00" cy="40.20" r="1.75"/><circle cx="221.00" cy="40.00" r="1.75"/><circle cx="228.00" cy="43.80" r="1.75"/><circle cx="194.00" cy="39.80" r="1.75"/><circle cx="241.50" cy="51.50" r="1.75"/><circle cx="251.20" cy="51.40" r="1.75"/><circle cx="255.40" cy="56.20" r="1.75"/><circle cx="248.20" cy="63.20" r="1.75"/><circle cx="248.40" cy="79.20" r="1.75"/><circle cx="248.40" cy="87.00" r="1.75"/><circle cx="234.60" cy="87.00" r="1.75"/><circle cx="241.60" cy="91.00" r="1.75"/><circle cx="194.00" cy="79.20" r="1.75"/><rect x="205.83" y="40.25" width="10.20" height="3.30" rx="1.65" transform="rotate(30.14 210.93 41.90)"/><rect x="226.38" y="52.05" width="10.20" height="3.30" rx="1.65" transform="rotate(30.14 231.47 53.70)"/><rect x="195.55" y="46.15" width="10.20" height="3.30" rx="1.65" transform="rotate(90.00 200.65 47.80)"/><rect x="205.83" y="52.05" width="10.20" height="3.30" rx="1.65" transform="rotate(-30.14 210.93 53.70)"/><rect x="216.10" y="57.95" width="10.20" height="3.30" rx="1.65" transform="rotate(90.00 221.20 59.60)"/><rect x="226.38" y="63.85" width="10.20" height="3.30" rx="1.65" transform="rotate(-30.14 231.47 65.50)"/><rect x="205.83" y="63.85" width="10.20" height="3.30" rx="1.65" transform="rotate(30.14 210.93 65.50)"/><rect x="236.65" y="69.75" width="10.20" height="3.30" rx="1.65" transform="rotate(90.00 241.75 71.40)"/><rect x="226.38" y="75.65" width="10.20" height="3.30" rx="1.65" transform="rotate(30.14 231.47 77.30)"/><rect x="205.83" y="75.65" width="10.20" height="3.30" rx="1.65" transform="rotate(-30.14 210.93 77.30)"/><rect x="216.10" y="81.55" width="10.20" height="3.30" rx="1.65" transform="rotate(90.00 221.20 83.20)"/><rect x="185.40" y="28.55" width="10.20" height="3.30" rx="1.65" transform="rotate(210.00 190.50 30.20)"/><rect x="195.50" y="68.95" width="10.20" height="3.30" rx="1.65" transform="rotate(90.00 200.60 70.60)"/><circle cx="108.95" cy="214.40" r="2.55"/><circle cx="122.65" cy="214.40" r="2.55"/><circle cx="115.80" cy="226.20" r="2.55"/><circle cx="129.50" cy="226.20" r="2.55"/><circle cx="97.40" cy="226.80" r="2.55"/><circle cx="118.00" cy="237.80" r="2.55"/><circle cx="69.50" cy="201.40" r="1.75"/><circle cx="85.20" cy="217.80" r="1.75"/><circle cx="91.00" cy="222.70" r="1.75"/><circle cx="103.80" cy="231.00" r="1.75"/><circle cx="110.60" cy="234.60" r="1.75"/><circle cx="125.00" cy="240.70" r="1.75"/><circle cx="132.10" cy="243.00" r="1.75"/><rect x="111.00" y="212.75" width="9.60" height="3.30" rx="1.65" transform="rotate(90.00 115.80 214.40)"/><rect x="111.00" y="212.75" width="9.60" height="3.30" rx="1.65" transform="rotate(90.00 115.80 214.40)"/><rect x="100.80" y="218.65" width="9.60" height="3.30" rx="1.65" transform="rotate(30.00 105.60 220.30)"/><rect x="121.20" y="218.65" width="9.60" height="3.30" rx="1.65" transform="rotate(-30.00 126.00 220.30)"/><rect x="121.20" y="230.45" width="9.60" height="3.30" rx="1.65" transform="rotate(30.00 126.00 232.10)"/><circle cx="216.05" cy="214.40" r="2.55"/><circle cx="202.35" cy="214.40" r="2.55"/><circle cx="209.20" cy="226.20" r="2.55"/><circle cx="195.50" cy="226.20" r="2.55"/><circle cx="227.60" cy="226.80" r="2.55"/><circle cx="207.00" cy="237.80" r="2.55"/><circle cx="255.50" cy="201.40" r="1.75"/><circle cx="239.80" cy="217.80" r="1.75"/><circle cx="234.00" cy="222.70" r="1.75"/><circle cx="221.20" cy="231.00" r="1.75"/><circle cx="214.40" cy="234.60" r="1.75"/><circle cx="200.00" cy="240.70" r="1.75"/><circle cx="192.90" cy="243.00" r="1.75"/><rect x="204.40" y="212.75" width="9.60" height="3.30" rx="1.65" transform="rotate(90.00 209.20 214.40)"/><rect x="204.40" y="212.75" width="9.60" height="3.30" rx="1.65" transform="rotate(90.00 209.20 214.40)"/><rect x="214.60" y="218.65" width="9.60" height="3.30" rx="1.65" transform="rotate(150.00 219.40 220.30)"/><rect x="194.20" y="218.65" width="9.60" height="3.30" rx="1.65" transform="rotate(210.00 199.00 220.30)"/><rect x="194.20" y="230.45" width="9.60" height="3.30" rx="1.65" transform="rotate(150.00 199.00 232.10)"/><rect x="66.60" y="75.20" width="2.40" height="4.80" rx="0.90"/><rect x="66.60" y="83.40" width="2.40" height="4.80" rx="0.90"/><rect x="66.60" y="91.40" width="2.40" height="4.80" rx="0.90"/><rect x="66.60" y="99.20" width="2.40" height="4.80" rx="0.90"/><rect x="256.00" y="75.20" width="2.40" height="4.80" rx="0.90"/><rect x="256.00" y="83.40" width="2.40" height="4.80" rx="0.90"/><rect x="256.00" y="91.40" width="2.40" height="4.80" rx="0.90"/><rect x="256.00" y="99.20" width="2.40" height="4.80" rx="0.90"/></g>
</g>
<path d="M582.70 99.03 L598.40 95.68 L611.41 103.19 L595.71 106.54 Z" fill="#fff"/>
<path d="M585.60 100.29 L599.74 96.62"/>
<path d="M593.38 104.78 L609.85 102.46"/>
<path d="M595.71 106.54 L611.41 103.19 L595.71 112.25 Z" fill="#fff"/>
<ellipse cx="570.40" cy="120.91" rx="28.60" ry="16.51" fill="#fff"/>
<path d="M541.80 120.91V113.56M599.00 120.91V113.56"/>
<ellipse cx="570.40" cy="113.56" rx="28.60" ry="16.51" fill="#fff"/>
<ellipse cx="570.40" cy="113.56" rx="24.60" ry="14.20" fill="#fff"/>
<path d="M545.80 118.91A24.6 14.20 0 0 1 595.00 118.91" fill="none"/>
<path d="M554.20 100.94 L590.83 122.09 L588.36 123.52 L551.73 102.37 Z" fill="#fff"/>
<path d="M551.73 102.37 L588.36 123.52 L588.36 125.97 L551.73 104.82 Z" fill="#777"/>
<path d="M553.35 101.43 L589.98 122.58"/>
<path d="M552.58 101.88 L589.20 123.03"/>
<path d="M552.86 106.13 L548.19 108.82 L548.19 101.47 L552.86 98.78 Z" fill="#fff"/>
<path d="M540.41 104.33 L548.19 108.82 L548.19 101.47 L540.41 96.98 Z" fill="#fff"/>
<path d="M545.08 94.29 L552.86 98.78 L548.19 101.47 L540.41 96.98 Z" fill="#fff"/>
<path d="M600.94 133.89 L596.28 136.58 L596.28 129.23 L600.94 126.54 Z" fill="#fff"/>
<path d="M588.50 132.09 L596.28 136.58 L596.28 129.23 L588.50 124.74 Z" fill="#fff"/>
<path d="M593.16 122.05 L600.94 126.54 L596.28 129.23 L588.50 124.74 Z" fill="#fff"/>
<path d="M592.39 107.97 L587.86 110.58 L587.86 104.86 L592.39 102.25 Z" fill="#fff"/>
<path d="M581.21 106.74 L587.86 110.58 L587.86 104.86 L581.21 101.03 Z" fill="#fff"/>
<path d="M585.74 98.41 L592.39 102.25 L587.86 104.86 L581.21 101.03 Z" fill="#fff"/>
<path d="M561.27 126.25 L554.56 130.13 L554.56 124.42 L561.27 120.54 Z" fill="#fff"/>
<path d="M547.49 126.05 L554.56 130.13 L554.56 124.42 L547.49 120.33 Z" fill="#fff"/>
<path d="M554.20 116.46 L561.27 120.54 L554.56 124.42 L547.49 120.33 Z" fill="#fff"/>
<path d="M408.54 142.99 L528.32 212.14 L528.32 197.28 L408.54 128.13 Z" fill="#fff"/>
<path d="M528.32 212.14 L536.10 212.14 L536.10 197.28 L528.32 197.28 Z" fill="#fff"/>
<path d="M596.56 177.24 L536.10 212.14 L536.10 197.28 L596.56 162.38 Z" fill="#fff"/>
<path d="M432.09 141.72 L428.76 146.09 L428.76 158.50 L438.95 164.38 L438.95 151.97 L442.27 147.60 Z" fill="#fff"/>
<path d="M442.27 147.60 L438.95 151.97 L438.95 164.38 L442.27 162.46 Z" fill="#fff"/>
<path d="M433.29 143.07 L430.18 147.23 L437.53 151.48 L440.64 147.31 Z" fill="none"/>
<path d="M498.41 180.01 L495.09 184.38 L495.09 196.79 L505.27 202.67 L505.27 190.26 L508.60 185.89 Z" fill="#fff"/>
<path d="M508.60 185.89 L505.27 190.26 L505.27 202.67 L508.60 200.75 Z" fill="#fff"/>
<path d="M499.62 181.36 L496.50 185.52 L503.86 189.77 L506.97 185.60 Z" fill="none"/>
<line x1="410.59" y1="144.17" x2="410.59" y2="129.31"/>
<line x1="429.68" y1="155.19" x2="429.68" y2="140.33"/>
<line x1="568.63" y1="193.36" x2="568.63" y2="178.50"/>
<line x1="561.56" y1="197.44" x2="561.56" y2="182.58"/>
<line x1="540.34" y1="209.69" x2="540.34" y2="194.83"/>
<line x1="442.20" y1="165.11" x2="495.23" y2="195.73" stroke="#111" stroke-width="1.3" stroke-dasharray="14 1.5 9 1"/>
<path d="M491.98 92.94 L593.09 151.32 L593.02 155.03 L591.96 158.50 L596.56 162.38 L536.10 197.28 L528.32 197.28 L408.54 128.13 L472.89 90.98 L479.53 93.60 L485.54 92.98 Z" fill="#fff"/>
<g transform="matrix(0.7071 0.4082 -0.7071 0.4082 497.918 15.221)" class="ns"><circle cx="131.20" cy="106.20" r="1.90" fill="#c8c8c8" stroke-width="0.8"/><circle cx="131.20" cy="125.60" r="1.90" fill="#777" stroke-width="0.8"/><circle cx="131.20" cy="144.40" r="1.90" fill="#c8c8c8" stroke-width="0.8"/><circle cx="146.90" cy="106.20" r="1.90" fill="#c8c8c8" stroke-width="0.8"/><circle cx="146.90" cy="125.60" r="1.90" fill="#777" stroke-width="0.8"/><circle cx="146.90" cy="144.40" r="1.90" fill="#c8c8c8" stroke-width="0.8"/><circle cx="162.60" cy="106.20" r="1.90" fill="#c8c8c8" stroke-width="0.8"/><circle cx="162.60" cy="125.60" r="1.90" fill="#777" stroke-width="0.8"/><circle cx="162.60" cy="144.40" r="1.90" fill="#c8c8c8" stroke-width="0.8"/><circle cx="178.30" cy="106.20" r="1.90" fill="#c8c8c8" stroke-width="0.8"/><circle cx="178.30" cy="125.60" r="1.90" fill="#777" stroke-width="0.8"/><circle cx="178.30" cy="144.40" r="1.90" fill="#c8c8c8" stroke-width="0.8"/><circle cx="194.00" cy="106.20" r="1.90" fill="#c8c8c8" stroke-width="0.8"/><circle cx="194.00" cy="125.60" r="1.90" fill="#777" stroke-width="0.8"/><circle cx="194.00" cy="144.40" r="1.90" fill="#c8c8c8" stroke-width="0.8"/><circle cx="91.85" cy="155.60" r="1.90" fill="#c8c8c8" stroke-width="0.8"/><circle cx="91.85" cy="175.00" r="1.90" fill="#777" stroke-width="0.8"/><circle cx="91.85" cy="194.30" r="1.90" fill="#c8c8c8" stroke-width="0.8"/><circle cx="107.55" cy="155.60" r="1.90" fill="#c8c8c8" stroke-width="0.8"/><circle cx="107.55" cy="175.00" r="1.90" fill="#777" stroke-width="0.8"/><circle cx="107.55" cy="194.30" r="1.90" fill="#c8c8c8" stroke-width="0.8"/><circle cx="123.25" cy="155.60" r="1.90" fill="#c8c8c8" stroke-width="0.8"/><circle cx="123.25" cy="175.00" r="1.90" fill="#777" stroke-width="0.8"/><circle cx="123.25" cy="194.30" r="1.90" fill="#c8c8c8" stroke-width="0.8"/><circle cx="138.95" cy="155.60" r="1.90" fill="#c8c8c8" stroke-width="0.8"/><circle cx="138.95" cy="175.00" r="1.90" fill="#777" stroke-width="0.8"/><circle cx="138.95" cy="194.30" r="1.90" fill="#c8c8c8" stroke-width="0.8"/><circle cx="154.65" cy="155.60" r="1.90" fill="#c8c8c8" stroke-width="0.8"/><circle cx="154.65" cy="175.00" r="1.90" fill="#777" stroke-width="0.8"/><circle cx="154.65" cy="194.30" r="1.90" fill="#c8c8c8" stroke-width="0.8"/><circle cx="170.35" cy="155.60" r="1.90" fill="#c8c8c8" stroke-width="0.8"/><circle cx="170.35" cy="175.00" r="1.90" fill="#777" stroke-width="0.8"/><circle cx="170.35" cy="194.30" r="1.90" fill="#c8c8c8" stroke-width="0.8"/><circle cx="186.05" cy="155.60" r="1.90" fill="#c8c8c8" stroke-width="0.8"/><circle cx="186.05" cy="175.00" r="1.90" fill="#777" stroke-width="0.8"/><circle cx="186.05" cy="194.30" r="1.90" fill="#c8c8c8" stroke-width="0.8"/><circle cx="201.75" cy="155.60" r="1.90" fill="#c8c8c8" stroke-width="0.8"/><circle cx="201.75" cy="175.00" r="1.90" fill="#777" stroke-width="0.8"/><circle cx="201.75" cy="194.30" r="1.90" fill="#c8c8c8" stroke-width="0.8"/><circle cx="217.45" cy="155.60" r="1.90" fill="#c8c8c8" stroke-width="0.8"/><circle cx="217.45" cy="175.00" r="1.90" fill="#777" stroke-width="0.8"/><circle cx="217.45" cy="194.30" r="1.90" fill="#c8c8c8" stroke-width="0.8"/><circle cx="233.15" cy="155.60" r="1.90" fill="#c8c8c8" stroke-width="0.8"/><circle cx="233.15" cy="175.00" r="1.90" fill="#777" stroke-width="0.8"/><circle cx="233.15" cy="194.30" r="1.90" fill="#c8c8c8" stroke-width="0.8"/><circle cx="99.70" cy="106.20" r="1.70"/><circle cx="225.40" cy="106.20" r="1.70"/></g>
<g transform="matrix(0.7071 0.4082 -0.7071 0.4082 497.918 15.221)" class="ns"><path d="M135.6 109.8 L191.8 109.8 Q193.4 109.8 193.4 111.39999999999999 L193.4 117.2 Q193.4 118.8 191.8 118.8 L135.6 118.8 Q134 118.8 134 117.2 L134 111.39999999999999 Q134 109.8 135.6 109.8 Z" fill="#fff"/></g>
<path d="M555.97 143.27L516.09 120.25Q514.43 119.95 513.97 120.25L512.20 121.27"/>
<line x1="525.53" y1="125.70" x2="525.53" y2="120.80"/>
<line x1="526.94" y1="126.52" x2="526.94" y2="121.62"/>
<line x1="536.03" y1="131.76" x2="536.03" y2="126.86"/>
<line x1="537.45" y1="132.58" x2="537.45" y2="127.68"/>
<line x1="546.53" y1="137.82" x2="546.53" y2="132.93"/>
<line x1="547.95" y1="138.64" x2="547.95" y2="133.74"/>
<g transform="matrix(0.7071 0.4082 -0.7071 0.4082 497.918 15.221)" class="ns"><path d="M134.1 132.2 L189.9 132.2 Q191.5 132.2 191.5 133.79999999999998 L191.5 139.0 Q191.5 140.6 189.9 140.6 L134.1 140.6 Q132.5 140.6 132.5 139.0 L132.5 133.79999999999998 Q132.5 132.2 134.1 132.2 Z" fill="#fff"/></g>
<path d="M538.79 151.64L499.19 128.78Q497.53 128.48 497.07 128.78L495.73 129.56"/>
<line x1="508.56" y1="134.19" x2="508.56" y2="129.29"/>
<line x1="509.97" y1="135.01" x2="509.97" y2="130.11"/>
<line x1="518.99" y1="140.21" x2="518.99" y2="135.31"/>
<line x1="520.40" y1="141.03" x2="520.40" y2="136.13"/>
<line x1="529.42" y1="146.23" x2="529.42" y2="141.33"/>
<line x1="530.83" y1="147.05" x2="530.83" y2="142.15"/>
<g transform="matrix(0.7071 0.4082 -0.7071 0.4082 497.918 15.221)" class="ns"><path d="M97.1 159.2 L153.6 159.2 Q155.2 159.2 155.2 160.79999999999998 L155.2 167.0 Q155.2 168.6 153.6 168.6 L97.1 168.6 Q95.5 168.6 95.5 167.0 L95.5 160.79999999999998 Q95.5 159.2 97.1 159.2 Z" fill="#fff"/></g>
<path d="M494.03 147.85L453.94 124.70Q452.28 124.40 451.82 124.70L449.76 125.88"/>
<line x1="463.43" y1="130.18" x2="463.43" y2="125.28"/>
<line x1="464.84" y1="131.00" x2="464.84" y2="126.10"/>
<line x1="473.98" y1="136.27" x2="473.98" y2="131.37"/>
<line x1="475.40" y1="137.09" x2="475.40" y2="132.19"/>
<line x1="484.54" y1="142.37" x2="484.54" y2="137.47"/>
<line x1="485.95" y1="143.18" x2="485.95" y2="138.28"/>
<g transform="matrix(0.7071 0.4082 -0.7071 0.4082 497.918 15.221)" class="ns"><path d="M173.79999999999998 159.2 L230.4 159.2 Q232 159.2 232 160.79999999999998 L232 167.0 Q232 168.6 230.4 168.6 L173.79999999999998 168.6 Q172.2 168.6 172.2 167.0 L172.2 160.79999999999998 Q172.2 159.2 173.79999999999998 159.2 Z" fill="#fff"/></g>
<path d="M548.33 179.20L508.17 156.01Q506.51 155.71 506.05 156.01L504.00 157.19"/>
<line x1="517.68" y1="161.50" x2="517.68" y2="156.60"/>
<line x1="519.10" y1="162.32" x2="519.10" y2="157.42"/>
<line x1="528.25" y1="167.60" x2="528.25" y2="162.70"/>
<line x1="529.67" y1="168.42" x2="529.67" y2="163.52"/>
<line x1="538.82" y1="173.71" x2="538.82" y2="168.81"/>
<line x1="540.24" y1="174.52" x2="540.24" y2="169.62"/>
<g transform="matrix(0.7071 0.4082 -0.7071 0.4082 497.918 15.221)" class="ns"><path d="M97.1 181.7 L151.6 181.7 Q153.2 181.7 153.2 183.29999999999998 L153.2 189.1 Q153.2 190.7 151.6 190.7 L97.1 190.7 Q95.5 190.7 95.5 189.1 L95.5 183.29999999999998 Q95.5 181.7 97.1 181.7 Z" fill="#fff"/></g>
<path d="M476.71 156.21L438.03 133.89Q436.37 133.59 435.91 133.89L434.14 134.91"/>
<line x1="447.17" y1="139.16" x2="447.17" y2="134.26"/>
<line x1="448.58" y1="139.98" x2="448.58" y2="135.08"/>
<line x1="457.37" y1="145.05" x2="457.37" y2="140.15"/>
<line x1="458.78" y1="145.87" x2="458.78" y2="140.97"/>
<line x1="467.57" y1="150.94" x2="467.57" y2="146.04"/>
<line x1="468.98" y1="151.75" x2="468.98" y2="146.86"/>
<g transform="matrix(0.7071 0.4082 -0.7071 0.4082 497.918 15.221)" class="ns"><path d="M172.4 181.7 L227.8 181.7 Q229.4 181.7 229.4 183.29999999999998 L229.4 189.1 Q229.4 190.7 227.8 190.7 L172.4 190.7 Q170.8 190.7 170.8 189.1 L170.8 183.29999999999998 Q170.8 181.7 172.4 181.7 Z" fill="#fff"/></g>
<path d="M530.59 187.32L491.27 164.62Q489.61 164.32 489.15 164.62L487.38 165.64"/>
<line x1="500.57" y1="169.99" x2="500.57" y2="165.09"/>
<line x1="501.98" y1="170.81" x2="501.98" y2="165.91"/>
<line x1="510.93" y1="175.97" x2="510.93" y2="171.07"/>
<line x1="512.34" y1="176.79" x2="512.34" y2="171.89"/>
<line x1="521.29" y1="181.95" x2="521.29" y2="177.05"/>
<line x1="522.70" y1="182.77" x2="522.70" y2="177.87"/>
<path d="M497.21 105.43 L497.21 100.53 L498.27 99.92 L500.04 100.94 L500.04 103.39 L501.45 104.21 L501.45 107.88 Z" fill="#fff"/>
<path d="M501.45 107.88 L499.69 108.90 L499.69 105.23 L501.45 104.21 Z" fill="#fff"/>
<ellipse cx="498.77" cy="102.90" rx="1.30" ry="0.90"/>
<path d="M481.65 113.60 L481.65 108.70 L482.72 108.09 L484.48 109.11 L484.48 111.56 L485.90 112.37 L485.90 116.05 Z" fill="#fff"/>
<path d="M485.90 116.05 L484.13 117.07 L484.13 113.39 L485.90 112.37 Z" fill="#fff"/>
<ellipse cx="483.21" cy="111.07" rx="1.30" ry="0.90"/>
<path d="M434.99 112.78 L434.99 107.88 L436.05 107.27 L437.81 108.29 L437.81 110.74 L439.23 111.56 L439.23 115.23 Z" fill="#fff"/>
<path d="M439.23 115.23 L437.46 116.25 L437.46 112.58 L439.23 111.56 Z" fill="#fff"/>
<ellipse cx="436.54" cy="110.25" rx="1.30" ry="0.90"/>
<path d="M418.72 122.17 L418.72 117.27 L419.78 116.66 L421.55 117.68 L421.55 120.13 L422.97 120.94 L422.97 124.62 Z" fill="#fff"/>
<path d="M422.97 124.62 L421.20 125.64 L421.20 121.97 L422.97 120.94 Z" fill="#fff"/>
<ellipse cx="420.28" cy="119.64" rx="1.30" ry="0.90"/>
<path d="M480.59 96.25 L455.49 110.74 L455.49 73.59 L480.59 59.10 Z" fill="#fff"/>
<path d="M439.58 101.56 L455.49 110.74 L455.49 73.59 L439.58 64.40 Z" fill="#fff"/>
<path d="M464.68 49.91 L480.59 59.10 L455.49 73.59 L439.58 64.40 Z" fill="#fff"/>
<path d="M495.30 85.31 L470.20 99.80 L470.20 82.08 L495.30 67.59 Z" fill="#fff"/>
<path d="M455.49 91.31 L470.20 99.80 L470.20 82.08 L455.49 73.59 Z" fill="#fff"/>
<path d="M480.59 59.10 L495.30 67.59 L470.20 82.08 L455.49 73.59 Z" fill="#fff"/>
<path d="M480.59 59.10 L455.49 73.59"/>
<path d="M455.49 91.31 L455.49 73.59"/>
<path d="M442.41 62.77 L473.03 80.45"/>
<path d="M461.50 51.75 L492.12 69.43"/>
<path d="M440.64 96.62 L438.52 97.84 L438.52 65.02 L440.64 63.79 Z" fill="#fff"/>
<path d="M438.52 97.84 L443.12 100.49 L443.12 67.67 L438.52 65.02 Z" fill="#fff"/>
<path d="M440.64 63.79 L445.24 66.45 L443.12 67.67 L438.52 65.02 Z" fill="#fff"/>
<path d="M492.12 84.69 L473.03 95.72 L473.03 83.88 L492.12 72.85 Z" fill="#fff"/>
<path d="M490.00 84.29 L475.15 92.86 L475.15 84.28 L490.00 75.71 Z" fill="#fff"/>
<path d="M486.46 86.33 L486.46 80.61 L483.63 82.24 L483.63 85.51 L480.81 87.14 L480.81 83.88 L477.98 85.51 L477.98 91.23"/>
<ellipse cx="465.04" cy="53.22" rx="2.30" ry="1.40"/>
<ellipse cx="469.99" cy="56.08" rx="2.30" ry="1.40"/>
<ellipse cx="445.24" cy="64.65" rx="2.30" ry="1.40"/>
<ellipse cx="450.19" cy="67.51" rx="2.30" ry="1.40"/>
<path d="M461.15 101.92 L458.32 103.55 L458.32 95.39 L461.15 93.76 Z" fill="#fff"/>
<path d="M454.79 101.51 L458.32 103.55 L458.32 95.39 L454.79 93.35 Z" fill="#fff"/>
<path d="M457.61 91.72 L461.15 93.76 L458.32 95.39 L454.79 93.35 Z" fill="#fff"/>
<path d="M455.49 110.74 L455.49 91.31"/>
<ellipse cx="447.86" cy="191.57" rx="27.00" ry="15.59" fill="#fff"/>
<path d="M420.86 191.57 L426.36 185.03 L469.36 185.03 L474.86 191.57 Z" fill="#fff" stroke="none"/>
<line x1="420.86" y1="191.57" x2="426.36" y2="185.03"/>
<line x1="474.86" y1="191.57" x2="469.36" y2="185.03"/>
<ellipse cx="447.86" cy="185.03" rx="21.50" ry="12.41" fill="#fff"/>
<ellipse cx="447.86" cy="184.73" rx="2.40" ry="1.40"/>
<path d="M439.86 179.37 L448.86 178.26 L448.86 170.50 L439.86 171.61 Z" fill="#fff"/>
<path d="M437.70 173.49 L439.86 179.37 L439.86 171.61 L437.70 168.59 Z" fill="#fff"/>
<path d="M439.86 171.61 L448.86 170.50 L446.70 167.49 L437.70 168.59 Z" fill="#fff"/>
<path d="M441.23 171.44 L439.07 168.43"/>
<path d="M447.49 170.67 L445.33 167.66"/>
<path d="M456.48 179.56 L462.99 183.32 L462.99 175.56 L456.48 171.81 Z" fill="#fff"/>
<path d="M462.99 183.32 L470.34 179.07 L470.34 174.18 L462.99 175.56 Z" fill="#fff"/>
<path d="M456.48 171.81 L462.99 175.56 L470.34 174.18 L463.84 170.42 Z" fill="#fff"/>
<path d="M457.47 172.38 L464.83 170.99"/>
<path d="M462.00 174.99 L469.35 173.60"/>
<path d="M430.23 189.27 L432.75 182.97 L432.75 175.21 L430.23 181.51 Z" fill="#fff"/>
<path d="M420.09 187.92 L430.23 189.27 L430.23 181.51 L420.09 183.02 Z" fill="#fff"/>
<path d="M430.23 181.51 L432.75 175.21 L422.61 176.72 L420.09 183.02 Z" fill="#fff"/>
<path d="M430.54 180.72 L420.41 182.23"/>
<path d="M432.43 176.00 L422.30 177.51"/>
<path d="M463.33 192.91 L473.50 194.16 L473.50 189.26 L463.33 185.16 Z" fill="#fff"/>
<path d="M473.50 194.16 L475.42 188.97 L475.42 184.07 L473.50 189.26 Z" fill="#fff"/>
<path d="M465.24 179.96 L463.33 185.16 L473.50 189.26 L475.42 184.07 Z" fill="#fff"/>
<path d="M464.95 180.75 L475.13 184.86"/>
<path d="M463.62 184.37 L473.80 188.47"/>
<path d="M425.37 197.52 L431.88 201.28 L431.88 196.38 L425.37 192.63 Z" fill="#fff"/>
<path d="M431.88 201.28 L439.23 197.03 L439.23 189.28 L431.88 196.38 Z" fill="#fff"/>
<path d="M439.23 189.28 L432.72 185.52 L425.37 192.63 L431.88 196.38 Z" fill="#fff"/>
<path d="M438.24 188.71 L430.89 195.81"/>
<path d="M433.71 186.09 L426.36 193.20"/>
<path d="M446.18 198.48 L448.52 204.33 L448.52 199.43 L446.18 190.72 Z" fill="#fff"/>
<path d="M448.52 204.33 L459.43 202.87 L459.43 197.97 L448.52 199.43 Z" fill="#fff"/>
<path d="M457.09 189.27 L446.18 190.72 L448.52 199.43 L459.43 197.97 Z" fill="#fff"/>
<path d="M455.73 189.45 L458.07 198.15"/>
<path d="M447.54 190.54 L449.88 199.25"/>
<path d="M587.37 138.45 L562.26 152.95 L562.26 135.23 L587.37 120.74 Z" fill="#fff"/>
<path d="M547.56 144.45 L562.26 152.95 L562.26 135.23 L547.56 126.74 Z" fill="#fff"/>
<path d="M572.66 112.25 L587.37 120.74 L562.26 135.23 L547.56 126.74 Z" fill="#fff"/>
<path d="M603.28 167.07 L578.17 181.56 L578.17 144.41 L603.28 129.92 Z" fill="#fff"/>
<path d="M562.26 172.38 L578.17 181.56 L578.17 144.41 L562.26 135.23 Z" fill="#fff"/>
<path d="M587.37 120.74 L603.28 129.92 L578.17 144.41 L562.26 135.23 Z" fill="#fff"/>
<path d="M550.39 125.10 L581.00 142.78"/>
<path d="M569.48 114.08 L600.09 131.76"/>
<path d="M587.37 120.74 L562.26 135.23"/>
<path d="M570.18 130.58 L550.39 142.01 L550.39 132.21 L570.18 120.78 Z" fill="#fff"/>
<path d="M546.21 139.60 L550.39 142.01 L550.39 132.21 L546.21 129.80 Z" fill="#fff"/>
<path d="M566.01 118.37 L570.18 120.78 L550.39 132.21 L546.21 129.80 Z" fill="#fff"/>
<path d="M572.52 172.74 L570.40 173.97 L570.40 141.15 L572.52 139.92 Z" fill="#fff"/>
<path d="M570.40 173.97 L574.99 176.62 L574.99 143.80 L570.40 141.15 Z" fill="#fff"/>
<path d="M572.52 139.92 L577.11 142.57 L574.99 143.80 L570.40 141.15 Z" fill="#fff"/>
<path d="M562.97 160.70 L560.14 162.34 L560.14 154.17 L562.97 152.54 Z" fill="#fff"/>
<path d="M556.61 160.29 L560.14 162.34 L560.14 154.17 L556.61 152.13 Z" fill="#fff"/>
<path d="M559.44 150.50 L562.97 152.54 L560.14 154.17 L556.61 152.13 Z" fill="#fff"/>
<path d="M540.45 177.09A54.80 31.64 0 1 0 650.05 177.09A54.80 31.64 0 1 0 540.45 177.09ZM549.45 177.09A45.80 26.44 0 1 1 641.05 177.09A45.80 26.44 0 1 1 549.45 177.09Z" fill-rule="evenodd" transform="rotate(-60 595.25 177.09)" fill="#fff"/>
<path d="M542.01 177.99A54.80 31.64 0 1 0 651.61 177.99A54.80 31.64 0 1 0 542.01 177.99ZM551.01 177.99A45.80 26.44 0 1 1 642.61 177.99A45.80 26.44 0 1 1 551.01 177.99Z" fill-rule="evenodd" transform="rotate(-60 596.81 177.99)" fill="#fff" stroke="none"/>
<path d="M542.70 178.39A54.80 31.64 0 1 0 652.30 178.39A54.80 31.64 0 1 0 542.70 178.39ZM551.70 178.39A45.80 26.44 0 1 1 643.30 178.39A45.80 26.44 0 1 1 551.70 178.39Z" fill-rule="evenodd" transform="rotate(-60 597.50 178.39)" fill="#fff" stroke="none"/>
<path d="M543.38 178.79A54.80 31.64 0 1 0 652.98 178.79A54.80 31.64 0 1 0 543.38 178.79ZM552.38 178.79A45.80 26.44 0 1 1 643.98 178.79A45.80 26.44 0 1 1 552.38 178.79Z" fill-rule="evenodd" transform="rotate(-60 598.18 178.79)" fill="#fff" stroke="none"/>
<path d="M544.07 179.18A54.80 31.64 0 1 0 653.67 179.18A54.80 31.64 0 1 0 544.07 179.18ZM553.07 179.18A45.80 26.44 0 1 1 644.67 179.18A45.80 26.44 0 1 1 553.07 179.18Z" fill-rule="evenodd" transform="rotate(-60 598.87 179.18)" fill="#fff" stroke="none"/>
<path d="M544.76 179.58A54.80 31.64 0 1 0 654.36 179.58A54.80 31.64 0 1 0 544.76 179.58ZM553.76 179.58A45.80 26.44 0 1 1 645.36 179.58A45.80 26.44 0 1 1 553.76 179.58Z" fill-rule="evenodd" transform="rotate(-60 599.56 179.58)" fill="#fff" stroke="none"/>
<path d="M545.45 179.98A54.80 31.64 0 1 0 655.05 179.98A54.80 31.64 0 1 0 545.45 179.98ZM554.45 179.98A45.80 26.44 0 1 1 646.05 179.98A45.80 26.44 0 1 1 554.45 179.98Z" fill-rule="evenodd" transform="rotate(-60 600.25 179.98)" fill="#fff" stroke="none"/>
<path d="M546.14 180.38A54.80 31.64 0 1 0 655.74 180.38A54.80 31.64 0 1 0 546.14 180.38ZM555.14 180.38A45.80 26.44 0 1 1 646.74 180.38A45.80 26.44 0 1 1 555.14 180.38Z" fill-rule="evenodd" transform="rotate(-60 600.94 180.38)" fill="#fff" stroke="none"/>
<path d="M546.83 180.78A54.80 31.64 0 1 0 656.43 180.78A54.80 31.64 0 1 0 546.83 180.78ZM555.83 180.78A45.80 26.44 0 1 1 647.43 180.78A45.80 26.44 0 1 1 555.83 180.78Z" fill-rule="evenodd" transform="rotate(-60 601.63 180.78)" fill="#fff" stroke="none"/>
<path d="M547.52 181.17A54.80 31.64 0 1 0 657.12 181.17A54.80 31.64 0 1 0 547.52 181.17ZM556.52 181.17A45.80 26.44 0 1 1 648.12 181.17A45.80 26.44 0 1 1 556.52 181.17Z" fill-rule="evenodd" transform="rotate(-60 602.32 181.17)" fill="#fff" stroke="none"/>
<path d="M572.95 227.02 L571.93 226.66 L570.94 226.24 L569.98 225.76 L569.05 225.23 L568.15 224.65 L567.28 224.01 L566.45 223.32 L565.65 222.58 L564.89 221.79 L564.16 220.94 L563.47 220.05 L562.82 219.11 L562.21 218.12 L561.64 217.09 L561.11 216.01 L560.62 214.89 L560.17 213.72 L559.77 212.52 L559.40 211.27 L559.08 209.99 L558.80 208.67 L558.57 207.31 L558.38 205.92 L558.23 204.50 L558.13 203.05 L558.07 201.57 L558.06 200.06 L558.09 198.53 L558.16 196.97 L558.28 195.40 L558.45 193.80 L558.66 192.18 L558.91 190.55 L559.20 188.91 L559.54 187.25 L559.92 185.58 L560.34 183.90 L560.81 182.21 L561.31 180.52 L561.86 178.83 L562.45 177.14 L563.07 175.44 L563.74 173.75 L564.44 172.07 L565.18 170.39 L565.96 168.72 L566.77 167.06 L567.62 165.42 L568.49 163.79 L569.41 162.17 L570.35 160.57 L571.32 158.99 L572.33 157.44 L573.36 155.91 L574.41 154.40 L575.50 152.92 L576.61 151.47 L577.74 150.05 L578.89 148.66 L580.06 147.30 L581.26 145.98 L582.47 144.70 L583.69 143.46 L584.93 142.25 L586.19 141.09 L587.46 139.96 L588.74 138.89 L590.02 137.85 L591.32 136.86 L592.62 135.92 L593.93 135.03 L595.24 134.19 L596.55 133.40 L597.86 132.65 L599.17 131.96 L600.48 131.33 L601.78 130.74 L603.08 130.21 L604.37 129.74 L605.65 129.32 L606.93 128.96 L608.19 128.65 L609.43 128.40 L610.67 128.21 L611.88 128.07 L613.08 127.99 L614.27 127.97 L615.43 128.00 L616.57 128.09 L617.68 128.24 L618.78 128.45 L619.84 128.71 L620.89 129.03 L621.90 129.41 L622.88 129.84 L623.84 130.33 L624.76 130.87 L625.66 131.47 L626.52 132.11 L627.34 132.82 L632.86 136.00 L632.03 135.30 L631.17 134.65 L630.28 134.05 L629.36 133.51 L628.40 133.03 L627.41 132.59 L626.40 132.22 L625.36 131.90 L624.29 131.63 L623.20 131.43 L622.08 131.28 L620.94 131.19 L619.78 131.15 L618.60 131.17 L617.40 131.25 L616.18 131.39 L614.95 131.58 L613.70 131.83 L612.44 132.14 L611.17 132.50 L609.89 132.92 L608.60 133.40 L607.30 133.93 L606.00 134.51 L604.69 135.15 L603.38 135.84 L602.06 136.58 L600.75 137.37 L599.44 138.22 L598.14 139.11 L596.83 140.05 L595.54 141.04 L594.25 142.07 L592.97 143.15 L591.71 144.27 L590.45 145.44 L589.21 146.64 L587.98 147.89 L586.77 149.17 L585.58 150.49 L584.41 151.84 L583.25 153.23 L582.12 154.65 L581.01 156.10 L579.93 157.58 L578.87 159.09 L577.84 160.62 L576.84 162.18 L575.87 163.76 L574.92 165.35 L574.01 166.97 L573.13 168.60 L572.28 170.25 L571.47 171.91 L570.70 173.58 L569.96 175.25 L569.25 176.94 L568.59 178.63 L567.96 180.32 L567.38 182.01 L566.83 183.71 L566.32 185.40 L565.86 187.08 L565.44 188.76 L565.05 190.43 L564.72 192.09 L564.42 193.74 L564.17 195.37 L563.96 196.98 L563.80 198.58 L563.68 200.16 L563.60 201.71 L563.57 203.25 L563.59 204.75 L563.64 206.23 L563.75 207.69 L563.89 209.11 L564.08 210.50 L564.32 211.85 L564.60 213.17 L564.92 214.45 L565.28 215.70 L565.69 216.91 L566.14 218.07 L566.63 219.19 L567.16 220.27 L567.73 221.31 L568.34 222.29 L568.99 223.23 L569.68 224.13 L570.40 224.97 L571.16 225.76 L571.96 226.51 L572.80 227.20 L573.66 227.83 L574.56 228.42 L575.49 228.95 L576.45 229.42 L577.45 229.84 L578.47 230.21 Z" fill="#4a4a4a" stroke="none"/>
<path d="M558.06 200.36L563.57 203.54M558.09 198.47L563.61 201.65M558.19 196.54L563.71 199.72M558.36 194.58L563.88 197.76M558.60 192.59L564.12 195.77M558.90 190.57L564.42 193.75M559.27 188.53L564.79 191.71M559.71 186.47L565.23 189.66M560.21 184.40L565.73 187.59M560.78 182.32L566.29 185.50M561.41 180.23L566.92 183.41M562.10 178.13L567.61 181.32M562.85 176.04L568.37 179.22M563.66 173.95L569.18 177.13M564.53 171.86L570.05 175.05M565.46 169.79L570.97 172.97M566.44 167.73L571.95 170.91M567.47 165.69L572.99 168.87M568.56 163.67L574.07 166.85M569.69 161.67L575.21 164.86M570.88 159.71L576.39 162.89M572.11 157.77L577.62 160.96M573.38 155.88L578.89 159.06M574.69 154.02L580.21 157.20M576.04 152.20L581.56 155.38M577.43 150.43L582.95 153.61M578.85 148.70L584.37 151.89M580.31 147.03L585.82 150.21M581.79 145.41L587.31 148.60M583.30 143.85L588.81 147.03M584.83 142.35L590.35 145.53M586.39 140.91L591.90 144.09M587.96 139.54L593.47 142.72M589.55 138.23L595.06 141.41M591.15 136.99L596.66 140.18M592.76 135.83L598.27 139.01M594.37 134.74L599.89 137.92M595.99 133.73L601.51 136.91M597.62 132.79L603.13 135.97M599.24 131.93L604.75 135.11M600.86 131.15L606.37 134.34M602.47 130.46L607.98 133.64M604.07 129.85L609.58 133.03M605.65 129.32L611.17 132.50M607.23 128.88L612.74 132.06M608.78 128.52L614.30 131.71M610.31 128.26L615.83 131.44M611.82 128.07L617.34 131.26M613.30 127.98L618.82 131.16M614.76 127.97L620.27 131.16M616.18 128.06L621.70 131.24M617.57 128.23L623.08 131.41M618.92 128.48L624.44 131.67M620.23 128.83L625.75 132.01M621.51 129.26L627.02 132.44M622.73 129.77L628.25 132.96M623.92 130.37L629.43 133.56M625.05 131.05L630.57 134.24M569.69 225.61L575.21 228.79M568.56 224.93L574.07 228.11M567.47 224.16L572.99 227.35M566.44 223.31L571.95 226.50M565.46 222.39L570.97 225.57M564.53 221.38L570.05 224.57M563.66 220.30L569.18 223.49M562.85 219.15L568.37 222.33M562.10 217.92L567.61 221.11M561.41 216.63L566.92 219.81M560.78 215.26L566.29 218.44M560.21 213.83L565.73 217.01M559.71 212.34L565.23 215.52M559.27 210.78L564.79 213.97M558.90 209.17L564.42 212.36M558.60 207.51L564.12 210.69M558.36 205.79L563.88 208.98M558.19 204.03L563.71 207.21M558.09 202.21L563.61 205.40" stroke="#9a9a9a" stroke-width="0.45"/>
<path d="M547.52 181.17A54.80 31.64 0 1 0 657.12 181.17A54.80 31.64 0 1 0 547.52 181.17ZM556.52 181.17A45.80 26.44 0 1 1 648.12 181.17A45.80 26.44 0 1 1 556.52 181.17Z" fill-rule="evenodd" transform="rotate(-60 602.32 181.17)" fill="#fff"/>
<path d="M550.16 182.24A54.00 31.18 0 1 0 658.16 182.24A54.00 31.18 0 1 0 550.16 182.24ZM558.36 182.24A45.80 26.44 0 1 1 649.96 182.24A45.80 26.44 0 1 1 558.36 182.24Z" fill-rule="evenodd" transform="rotate(-60 604.16 182.24)" fill="#fff"/>
<ellipse cx="604.16" cy="182.24" rx="51.50" ry="29.74" transform="rotate(-60.00 604.16 182.24)"/>
<ellipse cx="604.16" cy="182.24" rx="48.30" ry="27.89" transform="rotate(-60.00 604.16 182.24)"/>
<path d="M586.18 179.50 L566.82 173.52 L570.06 166.50 L590.17 170.85 Z" fill="#e8e8e8"/>
<path d="M586.18 179.50 L566.82 173.52 L569.65 175.15 L589.01 181.13 Z" fill="#e0e0e0"/>
<path d="M590.17 170.85 L570.06 166.50 L572.89 168.13 L593.00 172.48 Z" fill="#e0e0e0"/>
<path d="M589.01 181.13 L569.65 175.15 L572.89 168.13 L593.00 172.48 Z" fill="#d4d4d4"/>
<path d="M586.37 177.11 L572.64 173.52 L573.89 170.82 L587.62 174.41 Z" fill="#fff"/>
<path d="M594.43 166.79 L602.58 135.53 L607.82 134.47 L600.89 165.49 Z" fill="#e8e8e8"/>
<path d="M594.43 166.79 L602.58 135.53 L605.40 137.16 L597.26 168.42 Z" fill="#e0e0e0"/>
<path d="M600.89 165.49 L607.82 134.47 L610.65 136.10 L603.72 167.12 Z" fill="#e0e0e0"/>
<path d="M597.26 168.42 L605.40 137.16 L610.65 136.10 L603.72 167.12 Z" fill="#d4d4d4"/>
<path d="M601.01 161.66 L606.25 139.99 L608.27 139.58 L603.03 161.25 Z" fill="#fff"/>
<path d="M603.52 168.15 L627.92 154.80 L627.92 161.17 L603.52 175.99 Z" fill="#e8e8e8"/>
<path d="M603.52 168.15 L627.92 154.80 L630.75 156.44 L606.35 169.79 Z" fill="#e0e0e0"/>
<path d="M603.52 175.99 L627.92 161.17 L630.75 162.81 L606.35 177.62 Z" fill="#e0e0e0"/>
<path d="M606.35 169.79 L630.75 156.44 L630.75 162.81 L606.35 177.62 Z" fill="#d4d4d4"/>
<path d="M611.30 169.62 L628.27 159.83 L628.27 162.28 L611.30 172.07 Z" fill="#fff"/>
<path d="M600.89 181.70 L607.82 204.72 L602.58 209.71 L594.43 187.85 Z" fill="#e8e8e8"/>
<path d="M600.89 181.70 L607.82 204.72 L610.65 206.35 L603.72 183.33 Z" fill="#e0e0e0"/>
<path d="M594.43 187.85 L602.58 209.71 L605.40 211.34 L597.26 189.48 Z" fill="#e0e0e0"/>
<path d="M603.72 183.33 L610.65 206.35 L605.40 211.34 L597.26 189.48 Z" fill="#d4d4d4"/>
<path d="M603.03 190.00 L608.27 205.61 L606.25 207.53 L601.01 191.92 Z" fill="#fff"/>
<path d="M590.17 188.71 L570.06 216.28 L566.82 213.00 L586.18 184.67 Z" fill="#e8e8e8"/>
<path d="M590.17 188.71 L570.06 216.28 L572.89 217.92 L593.00 190.34 Z" fill="#e0e0e0"/>
<path d="M586.18 184.67 L566.82 213.00 L569.65 214.64 L589.01 186.31 Z" fill="#e0e0e0"/>
<path d="M593.00 190.34 L572.89 217.92 L569.65 214.64 L589.01 186.31 Z" fill="#d4d4d4"/>
<path d="M587.62 194.63 L573.89 214.07 L572.64 212.81 L586.37 193.37 Z" fill="#fff"/>
<ellipse cx="595.04" cy="176.97" rx="14.00" ry="8.08" transform="rotate(-60.00 595.04 176.97)" fill="#fff"/>
<path d="M602.04 164.85 L606.28 167.30 L592.28 191.54 L588.04 189.09 Z" fill="#fff" stroke="none"/>
<line x1="602.04" y1="164.85" x2="606.28" y2="167.30"/>
<line x1="588.04" y1="189.09" x2="592.28" y2="191.54"/>
<ellipse cx="599.28" cy="179.42" rx="14.00" ry="8.08" transform="rotate(-60.00 599.28 179.42)" fill="#fff"/>
<ellipse cx="606.00" cy="175.54" rx="2.10" ry="1.30" transform="rotate(-60.00 606.00 175.54)"/>
<ellipse cx="599.28" cy="179.42" rx="2.10" ry="1.30" transform="rotate(-60.00 599.28 179.42)"/>
<ellipse cx="592.56" cy="183.30" rx="2.10" ry="1.30" transform="rotate(-60.00 592.56 183.30)"/>
<text font-size="4.6" font-weight="bold" fill="#111" stroke="#111" stroke-width="0.2" text-anchor="middle" transform="matrix(0 0.8165 -0.7071 0.4082 602.68 177.42) translate(0 1.6)" textLength="15" lengthAdjust="spacingAndGlyphs">Pololu</text>
<line x1="163.00" y1="1.40" x2="338.70" y2="1.40"/>
<line x1="163.00" y1="257.00" x2="338.70" y2="257.00"/>
<line x1="331.70" y1="1.40" x2="331.70" y2="112.50"/>
<line x1="331.70" y1="137.80" x2="331.70" y2="257.00"/>
<path d="M331.70 1.40L332.95 9.40L330.45 9.40Z" fill="#000" stroke="none"/>
<path d="M331.70 257.00L330.45 249.00L332.95 249.00Z" fill="#000" stroke="none"/>
<text x="331.70" y="123.40" font-size="8.4" text-anchor="middle" fill="#111" stroke="#111" stroke-width="0.35">163</text>
<text x="331.70" y="134.20" font-size="8.4" text-anchor="middle" fill="#111" stroke="#111" stroke-width="0.35">6.43</text>
<text x="320.38" y="134.95" font-size="12.1" text-anchor="start" fill="#444" stroke="none">[</text>
<text x="343.02" y="134.95" font-size="12.1" text-anchor="end" fill="#444" stroke="none">]</text>
<line x1="261.00" y1="72.50" x2="305.00" y2="72.50"/>
<line x1="261.00" y1="185.30" x2="305.00" y2="185.30"/>
<line x1="297.70" y1="72.50" x2="297.70" y2="112.50"/>
<line x1="297.70" y1="137.80" x2="297.70" y2="185.30"/>
<path d="M297.70 72.50L298.95 80.50L296.45 80.50Z" fill="#000" stroke="none"/>
<path d="M297.70 185.30L296.45 177.30L298.95 177.30Z" fill="#000" stroke="none"/>
<text x="297.70" y="123.40" font-size="8.4" text-anchor="middle" fill="#111" stroke="#111" stroke-width="0.35">72</text>
<text x="297.70" y="134.20" font-size="8.4" text-anchor="middle" fill="#111" stroke="#111" stroke-width="0.35">2.83</text>
<text x="286.38" y="134.95" font-size="12.1" text-anchor="start" fill="#444" stroke="none">[</text>
<text x="309.02" y="134.95" font-size="12.1" text-anchor="end" fill="#444" stroke="none">]</text>
<line x1="64.60" y1="186.00" x2="64.60" y2="280.60"/>
<line x1="260.60" y1="186.00" x2="260.60" y2="280.60"/>
<line x1="64.60" y1="273.40" x2="147.73" y2="273.40"/>
<line x1="177.47" y1="273.40" x2="260.60" y2="273.40"/>
<path d="M64.60 273.40L72.60 272.15L72.60 274.65Z" fill="#000" stroke="none"/>
<path d="M260.60 273.40L252.60 274.65L252.60 272.15Z" fill="#000" stroke="none"/>
<text x="162.60" y="270.50" font-size="8.4" text-anchor="middle" fill="#111" stroke="#111" stroke-width="0.35">125</text>
<text x="162.60" y="281.30" font-size="8.4" text-anchor="middle" fill="#111" stroke="#111" stroke-width="0.35">4.92</text>
<text x="151.28" y="282.05" font-size="12.1" text-anchor="start" fill="#444" stroke="none">[</text>
<text x="173.92" y="282.05" font-size="12.1" text-anchor="end" fill="#444" stroke="none">]</text>
<line x1="46.00" y1="185.00" x2="46.00" y2="305.00"/>
<line x1="279.20" y1="185.00" x2="279.20" y2="305.00"/>
<line x1="46.00" y1="298.40" x2="147.73" y2="298.40"/>
<line x1="177.47" y1="298.40" x2="279.20" y2="298.40"/>
<path d="M46.00 298.40L54.00 297.15L54.00 299.65Z" fill="#000" stroke="none"/>
<path d="M279.20 298.40L271.20 299.65L271.20 297.15Z" fill="#000" stroke="none"/>
<text x="162.60" y="295.50" font-size="8.4" text-anchor="middle" fill="#111" stroke="#111" stroke-width="0.35">149</text>
<text x="162.60" y="306.30" font-size="8.4" text-anchor="middle" fill="#111" stroke="#111" stroke-width="0.35">5.86</text>
<text x="151.28" y="307.05" font-size="12.1" text-anchor="start" fill="#444" stroke="none">[</text>
<text x="173.92" y="307.05" font-size="12.1" text-anchor="end" fill="#444" stroke="none">]</text>
<line x1="107.30" y1="318.00" x2="107.30" y2="342.50"/>
<line x1="217.80" y1="318.00" x2="217.80" y2="342.50"/>
<line x1="107.30" y1="325.20" x2="147.73" y2="325.20"/>
<line x1="177.47" y1="325.20" x2="217.80" y2="325.20"/>
<path d="M107.30 325.20L115.30 323.95L115.30 326.45Z" fill="#000" stroke="none"/>
<path d="M217.80 325.20L209.80 326.45L209.80 323.95Z" fill="#000" stroke="none"/>
<text x="162.60" y="322.30" font-size="8.4" text-anchor="middle" fill="#111" stroke="#111" stroke-width="0.35">70.4</text>
<text x="162.60" y="333.10" font-size="8.4" text-anchor="middle" fill="#111" stroke="#111" stroke-width="0.35">2.77</text>
<text x="151.28" y="333.85" font-size="12.1" text-anchor="start" fill="#444" stroke="none">[</text>
<text x="173.92" y="333.85" font-size="12.1" text-anchor="end" fill="#444" stroke="none">]</text>
<line x1="180.00" y1="341.40" x2="244.50" y2="341.40"/>
<line x1="180.00" y1="345.60" x2="215.00" y2="345.60"/>
<line x1="187.50" y1="327.50" x2="187.50" y2="341.40"/>
<path d="M187.50 341.40L186.25 334.40L188.75 334.40Z" fill="#000" stroke="none"/>
<path d="M187.5 345.6V357H181.3"/>
<path d="M187.50 345.60L188.75 352.60L186.25 352.60Z" fill="#000" stroke="none"/>
<text x="162.60" y="353.60" font-size="8.4" text-anchor="middle" fill="#111" stroke="#111" stroke-width="0.35">2.5</text>
<text x="162.60" y="364.40" font-size="8.4" text-anchor="middle" fill="#111" stroke="#111" stroke-width="0.35">0.10</text>
<text x="151.28" y="365.15" font-size="12.1" text-anchor="start" fill="#444" stroke="none">[</text>
<text x="173.92" y="365.15" font-size="12.1" text-anchor="end" fill="#444" stroke="none">]</text>
<line x1="198.00" y1="349.50" x2="198.00" y2="363.70"/>
<path d="M198.00 363.70L196.75 356.70L199.25 356.70Z" fill="#000" stroke="none"/>
<line x1="198.00" y1="387.40" x2="198.00" y2="417.00"/>
<path d="M198.00 387.40L199.25 394.40L196.75 394.40Z" fill="#000" stroke="none"/>
<text x="198.40" y="372.60" font-size="8.4" text-anchor="middle" fill="#111" stroke="#111" stroke-width="0.35">15</text>
<text x="198.40" y="383.40" font-size="8.4" text-anchor="middle" fill="#111" stroke="#111" stroke-width="0.35">0.59</text>
<text x="187.08" y="384.15" font-size="12.1" text-anchor="start" fill="#444" stroke="none">[</text>
<text x="209.72" y="384.15" font-size="12.1" text-anchor="end" fill="#444" stroke="none">]</text>
<line x1="262.00" y1="345.60" x2="310.00" y2="345.60"/>
<line x1="252.00" y1="387.40" x2="310.00" y2="387.40"/>
<line x1="303.00" y1="345.60" x2="303.00" y2="354.00"/>
<line x1="303.00" y1="376.50" x2="303.00" y2="387.40"/>
<path d="M303.00 345.60L304.25 352.60L301.75 352.60Z" fill="#000" stroke="none"/>
<path d="M303.00 387.40L301.75 380.40L304.25 380.40Z" fill="#000" stroke="none"/>
<text x="303.00" y="363.10" font-size="8.4" text-anchor="middle" fill="#111" stroke="#111" stroke-width="0.35">26.5</text>
<text x="303.00" y="373.90" font-size="8.4" text-anchor="middle" fill="#111" stroke="#111" stroke-width="0.35">1.04</text>
<text x="291.68" y="374.65" font-size="12.1" text-anchor="start" fill="#444" stroke="none">[</text>
<text x="314.32" y="374.65" font-size="12.1" text-anchor="end" fill="#444" stroke="none">]</text>
<line x1="279.50" y1="332.30" x2="347.50" y2="332.30"/>
<line x1="277.50" y1="418.00" x2="347.50" y2="418.00"/>
<line x1="277.50" y1="442.00" x2="347.50" y2="442.00"/>
<line x1="339.50" y1="317.50" x2="339.50" y2="332.30"/>
<path d="M339.50 332.30L338.25 325.30L340.75 325.30Z" fill="#000" stroke="none"/>
<line x1="339.50" y1="403.80" x2="339.50" y2="418.00"/>
<path d="M339.50 418.00L338.25 411.00L340.75 411.00Z" fill="#000" stroke="none"/>
<line x1="339.50" y1="442.00" x2="339.50" y2="456.30"/>
<path d="M339.50 442.00L340.75 449.00L338.25 449.00Z" fill="#000" stroke="none"/>
<text x="339.50" y="373.10" font-size="8.4" text-anchor="middle" fill="#111" stroke="#111" stroke-width="0.35">70</text>
<text x="339.50" y="383.90" font-size="8.4" text-anchor="middle" fill="#111" stroke="#111" stroke-width="0.35">2.76</text>
<text x="328.18" y="384.65" font-size="12.1" text-anchor="start" fill="#444" stroke="none">[</text>
<text x="350.82" y="384.65" font-size="12.1" text-anchor="end" fill="#444" stroke="none">]</text>
<text x="339.80" y="428.10" font-size="8.4" text-anchor="middle" fill="#111" stroke="#111" stroke-width="0.35">15.5</text>
<text x="339.80" y="438.90" font-size="8.4" text-anchor="middle" fill="#111" stroke="#111" stroke-width="0.35">0.61</text>
<text x="328.48" y="439.65" font-size="12.1" text-anchor="start" fill="#444" stroke="none">[</text>
<text x="351.12" y="439.65" font-size="12.1" text-anchor="end" fill="#444" stroke="none">]</text>
<line x1="89.20" y1="364.00" x2="89.20" y2="460.00"/>
<line x1="235.80" y1="364.00" x2="235.80" y2="460.00"/>
<line x1="89.20" y1="453.80" x2="148.13" y2="453.80"/>
<line x1="177.87" y1="453.80" x2="235.80" y2="453.80"/>
<path d="M89.20 453.80L97.20 452.55L97.20 455.05Z" fill="#000" stroke="none"/>
<path d="M235.80 453.80L227.80 455.05L227.80 452.55Z" fill="#000" stroke="none"/>
<text x="163.00" y="450.90" font-size="8.4" text-anchor="middle" fill="#111" stroke="#111" stroke-width="0.35">93.3</text>
<text x="163.00" y="461.70" font-size="8.4" text-anchor="middle" fill="#111" stroke="#111" stroke-width="0.35">3.67</text>
<text x="151.68" y="462.45" font-size="12.1" text-anchor="start" fill="#444" stroke="none">[</text>
<text x="174.32" y="462.45" font-size="12.1" text-anchor="end" fill="#444" stroke="none">]</text>
<line x1="74.50" y1="387.40" x2="74.50" y2="484.50"/>
<line x1="250.50" y1="387.40" x2="250.50" y2="484.50"/>
<line x1="74.50" y1="477.50" x2="148.13" y2="477.50"/>
<line x1="177.87" y1="477.50" x2="250.50" y2="477.50"/>
<path d="M74.50 477.50L82.50 476.25L82.50 478.75Z" fill="#000" stroke="none"/>
<path d="M250.50 477.50L242.50 478.75L242.50 476.25Z" fill="#000" stroke="none"/>
<text x="163.00" y="474.60" font-size="8.4" text-anchor="middle" fill="#111" stroke="#111" stroke-width="0.35">112</text>
<text x="163.00" y="485.40" font-size="8.4" text-anchor="middle" fill="#111" stroke="#111" stroke-width="0.35">4.42</text>
<text x="151.68" y="486.15" font-size="12.1" text-anchor="start" fill="#444" stroke="none">[</text>
<text x="174.32" y="486.15" font-size="12.1" text-anchor="end" fill="#444" stroke="none">]</text>
<text x="48.30" y="498.10" font-size="8.4" text-anchor="start" fill="#111" stroke="#111" stroke-width="0.35">Units are mm over [inches]</text>
<line x1="386.00" y1="387.50" x2="451.20" y2="387.50"/>
<line x1="386.00" y1="402.70" x2="398.50" y2="402.70"/>
<path d="M407.5 365H393.2V387.5"/>
<path d="M393.20 387.50L391.95 380.50L394.45 380.50Z" fill="#000" stroke="none"/>
<line x1="393.20" y1="402.70" x2="393.20" y2="417.60"/>
<path d="M393.20 402.70L394.45 409.70L391.95 409.70Z" fill="#000" stroke="none"/>
<text x="427.50" y="361.30" font-size="8.4" text-anchor="middle" fill="#111" stroke="#111" stroke-width="0.35">10</text>
<text x="427.50" y="372.10" font-size="8.4" text-anchor="middle" fill="#111" stroke="#111" stroke-width="0.35">0.39</text>
<text x="416.18" y="372.85" font-size="12.1" text-anchor="start" fill="#444" stroke="none">[</text>
<text x="438.82" y="372.85" font-size="12.1" text-anchor="end" fill="#444" stroke="none">]</text>
<line x1="461.40" y1="373.00" x2="461.40" y2="387.50"/>
<path d="M461.40 387.50L460.15 380.50L462.65 380.50Z" fill="#000" stroke="none"/>
<path d="M461.4 418V451.3H466.3"/>
<path d="M461.40 418.00L462.65 425.00L460.15 425.00Z" fill="#000" stroke="none"/>
<text x="485.50" y="449.20" font-size="8.4" text-anchor="middle" fill="#111" stroke="#111" stroke-width="0.35">19.5</text>
<text x="485.50" y="460.00" font-size="8.4" text-anchor="middle" fill="#111" stroke="#111" stroke-width="0.35">0.77</text>
<text x="474.18" y="460.75" font-size="12.1" text-anchor="start" fill="#444" stroke="none">[</text>
<text x="496.82" y="460.75" font-size="12.1" text-anchor="end" fill="#444" stroke="none">]</text>
</g>
</svg>
</body></html>
